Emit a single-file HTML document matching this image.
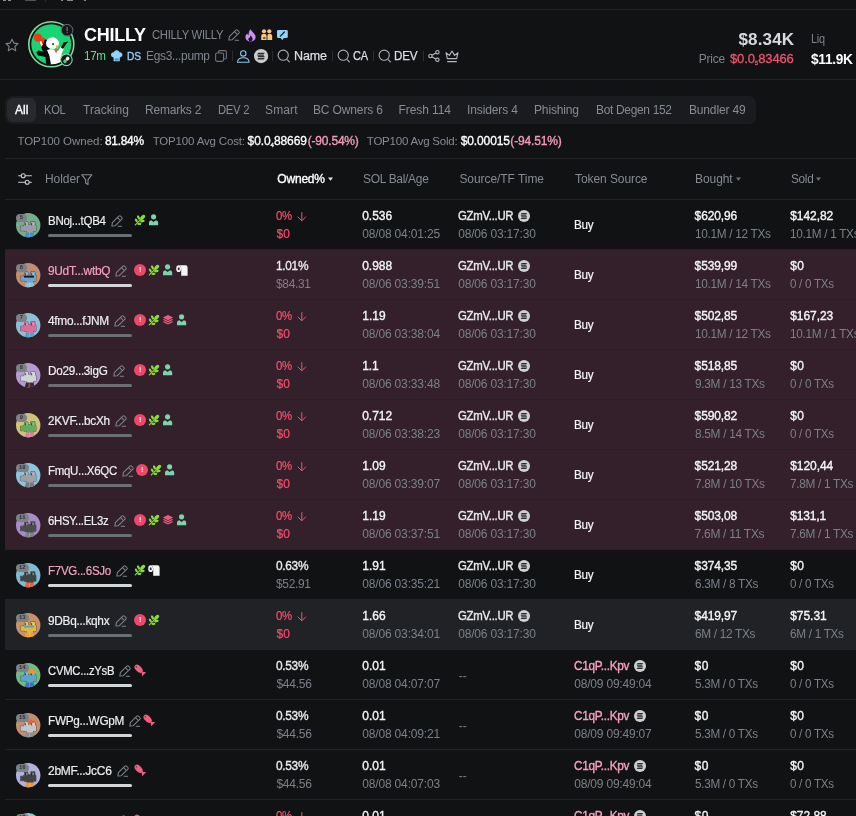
<!DOCTYPE html><html lang="en"><head><meta charset="utf-8"><title>CHILLY holders</title><style>
html,body{margin:0;padding:0;background:#111214;}
body{width:856px;height:816px;overflow:hidden;position:relative;font-family:"Liberation Sans",sans-serif;-webkit-font-smoothing:antialiased;}
.t{position:absolute;white-space:nowrap;}
.i{position:absolute;display:block;overflow:visible;}
.hl{position:absolute;height:1px;background:#212327;}
.box{position:absolute;}
.sec{position:absolute;left:0;top:0;}
.row{position:absolute;left:5px;width:851px;height:49px;border-bottom:1px solid #212327;}
.bar{position:absolute;left:43px;width:84px;height:3px;border-radius:2px;}
.ex{position:absolute;width:12.2px;height:12.2px;border-radius:50%;background:#ee4868;color:#fff;font-size:7px;line-height:12px;font-weight:700;text-align:center;}
.idx{position:absolute;min-width:5px;padding:0 3px;height:8px;border-radius:4px;background:#7d8287;color:#2c2f34;font-size:5.5px;line-height:8.4px;font-weight:700;text-align:center;font-family:"Liberation Mono",monospace;}
.sub{font-size:6px;position:relative;top:1.8px;letter-spacing:0;}

</style></head><body>
<header class="sec">
<div class="box" style="left:3px;top:0;width:2.5px;height:1px;background:#8f9296"></div><div class="box" style="left:8px;top:0;width:2.5px;height:1px;background:#8f9296"></div>
<div class="box" style="left:25px;top:0;width:11px;height:1px;background:#4f5358"></div>
<div class="box" style="left:45px;top:0;width:1px;height:2px;background:#2a2d33"></div>
<div class="box" style="left:61px;top:0;width:2px;height:1px;background:#85888c"></div><div class="box" style="left:67px;top:0;width:6px;height:1px;background:#85888c"></div><div class="box" style="left:84px;top:0;width:1.5px;height:1px;background:#85888c"></div>
<div class="hl" style="left:0;top:9px;width:856px"></div>
<div class="hl" style="left:0;top:79px;width:856px"></div>
<svg class="i" style="left:5.0px;top:38.0px" width="14" height="14" viewBox="0 0 14 14"><path d="M7 1.2 8.8 5.1 13 5.6 9.9 8.5 10.7 12.7 7 10.6 3.3 12.7 4.1 8.5 1 5.6 5.2 5.1Z" fill="none" stroke="#7d828a" stroke-width="1.1" stroke-linejoin="round"/></svg>
<svg class="i" style="left:27.8px;top:21.3px" width="46.6" height="46.6" viewBox="0 0 46.6 46.6"><circle cx="23.3" cy="23.3" r="22.5" fill="none" stroke="#7fd99f" stroke-width="1.6"/>
<circle cx="23.3" cy="23.3" r="20" fill="#19d472"/>
<clipPath id="pc"><circle cx="23.3" cy="23.3" r="20"/></clipPath>
<g clip-path="url(#pc)">
<circle cx="9.9" cy="16.6" r="4.2" fill="#f23a12"/>
<ellipse cx="17.6" cy="25" rx="4.4" ry="6.4" fill="#0b0b0b"/>
<path d="M10.4 19.8 15.6 16.2 17 18.2 13.6 26.4Z" fill="#f23a12"/>
<path d="M11.6 21 13.2 19.8 14.6 23.4 13.4 25.6Z" fill="#fff"/>
<ellipse cx="24.5" cy="22.2" rx="6.5" ry="5.9" fill="#fff"/>
<path d="M8.3 31.5 10.5 29.5 17 31 21 29 25 34 26 44 18 44 17.5 36 10 34.5Z" fill="#0b0b0b"/>
<path d="M19 29Q25 27 30 30L33 25.5 36 27.5 33.5 33 33.8 43 23 44 21.5 35Z" fill="#fff"/>
<path d="M33 26.4 35.5 21.5 40.4 20.5 37.8 23.5 35 28Z" fill="#0b0b0b"/>
<path d="M27.5 24.5 31 24.8 29 28Z" fill="#f5a11a"/>
<path d="M26 28.6 29.8 28.4 28.2 32.2Z" fill="#e8582a"/>
<ellipse cx="25" cy="23.2" rx="0.8" ry="1.1" fill="#111"/>
</g>
<circle cx="39.1" cy="9.2" r="5.8" fill="#15171a" stroke="#666b72" stroke-width="1"/>
<rect x="38.5" y="6" width="1.2" height="4.2" fill="#70757c"/><rect x="38.5" y="11.1" width="1.2" height="1.2" fill="#70757c"/>
<circle cx="38.4" cy="38.8" r="5.8" fill="#15171a" stroke="#7fd99f" stroke-width="1.1"/>
<g transform="rotate(-45 38.4 38.8)"><rect x="34.6" y="37.1" width="3.8" height="3.4" rx="1.7" fill="#3ecf8e"/><rect x="38.2" y="37.1" width="3.9" height="3.4" rx="1.7" fill="#f1f1f1"/></g></svg>
<span class="t" style="left:84.0px;top:24.0px;font-size:18px;line-height:22px;color:#ffffff;font-weight:700;letter-spacing:-0.269px;">CHILLY</span>
<span class="t" style="left:151.5px;top:27.0px;font-size:12px;line-height:16px;color:#81868f;transform:scaleX(0.940);transform-origin:0 50%;letter-spacing:-0.300px;">CHILLY WILLY</span>
<svg class="i" style="left:228.0px;top:28.8px" width="12" height="12" viewBox="0 0 12 12"><g fill="none" stroke="#7f848c" stroke-width="1.05" stroke-linejoin="round" stroke-linecap="round"><path d="M7.9 1.1Q8.7 0.4 9.5 1.1L10.9 2.5Q11.6 3.3 10.9 4.1L4.3 10.7 0.9 11.1 1.3 7.7Z"/><path d="M6.5 2.6 9.4 5.5"/><path d="M7.2 11.2H10.6"/></g></svg>
<svg class="i" style="left:245.0px;top:28.6px" width="11" height="12.4" viewBox="0 0 11 12.4"><path d="M5.6 0.2C6.4 2.4 10.6 4.6 10.6 8.2 10.6 10.8 8.4 12.4 5.5 12.4 2.6 12.4 0.4 10.8 0.4 8.2 0.4 6.4 1.4 5.2 2.2 4.4 2.6 5.4 3 5.8 3.6 6.2 3.4 3.8 4.4 1.4 5.6 0.2Z" fill="#cf8df6"/><path d="M5.6 6.2C6.2 7.6 7.6 8.4 7.6 10.2 7.6 11.4 6.8 12.4 5.5 12.4 4.2 12.4 3.4 11.4 3.4 10.2 3.4 9.2 4 8.6 4.4 8.2 4.6 8.8 4.8 9 5 9.2 5 8 5.2 7 5.6 6.2Z" fill="#15171a"/></svg>
<svg class="i" style="left:260.5px;top:29.2px" width="11.4" height="11" viewBox="0 0 11.4 11"><g fill="#f6c67c"><circle cx="3" cy="2.3" r="2.1"/><circle cx="8.3" cy="2.3" r="2.1"/><path d="M0.2 11V7Q0.2 5 2 5H4.2Q5.6 5 5.6 7V11Z"/><path d="M6.4 11V7Q6.4 5 7.6 5H9.4Q11.2 5 11.2 7V11Z"/></g><rect x="2" y="8" width="2.6" height="2" fill="#15171a" opacity=".55"/></svg>
<svg class="i" style="left:276.6px;top:30.0px" width="10.8" height="10.4" viewBox="0 0 10.8 10.4"><path d="M1.2 0H9.6Q10.8 0 10.8 1.2V6.8Q10.8 8 9.6 8H6.8L5.2 10.2 3.8 8H1.2Q0 8 0 6.8V1.2Q0 0 1.2 0Z" fill="#8dd3fb"/><path d="M3.4 6.2 7.4 2" stroke="#15171a" stroke-width="1.2" stroke-linecap="round"/></svg>
<span class="t" style="left:84.0px;top:48.1px;font-size:12px;line-height:16px;color:#62e08f;transform:scaleX(0.967);transform-origin:0 50%;letter-spacing:-0.300px;">17m</span>
<svg class="i" style="left:111.4px;top:50.4px" width="11.4" height="11.4" viewBox="0 0 11.4 11.4"><path d="M2.6 7.4C0.8 7.2 0 6 0 4.8 0 3.2 1.4 2.2 2.8 2.4 3.2 1 4.4 0.2 5.7 0.2 7 0.2 8.2 1 8.6 2.4 10 2.2 11.4 3.2 11.4 4.8 11.4 6 10.6 7.2 8.8 7.4V11.2H2.6Z" fill="#8fd4fb"/><rect x="3.6" y="8.4" width="4.2" height="2.2" fill="#5b93b5"/></svg>
<span class="t" style="left:127.4px;top:48.1px;font-size:11.5px;line-height:16px;color:#8fd0fb;transform:scaleX(0.893);transform-origin:0 50%;-webkit-text-stroke:0.35px;letter-spacing:-0.300px;">DS</span>
<span class="t" style="left:146.0px;top:48.1px;font-size:12px;line-height:16px;color:#81868f;transform:scaleX(0.994);transform-origin:0 50%;letter-spacing:-0.300px;">Egs3...pump</span>
<svg class="i" style="left:215.0px;top:50.0px" width="12" height="12" viewBox="0 0 12 12"><rect x="0.6" y="3" width="8" height="8.4" rx="1.6" fill="none" stroke="#6d727a" stroke-width="1.1"/><path d="M3.4 3V2.2Q3.4 0.6 5 0.6H9.8Q11.4 0.6 11.4 2.2V7.4Q11.4 9 9.8 9H8.8" fill="none" stroke="#6d727a" stroke-width="1.1"/></svg>
<div class="box" style="left:232px;top:51px;width:1px;height:10px;background:#292c31"></div>
<svg class="i" style="left:236.8px;top:49.6px" width="12.6" height="13" viewBox="0 0 12.6 13"><circle cx="6.3" cy="3.4" r="2.7" fill="none" stroke="#86c9f4" stroke-width="1.1"/><path d="M0.6 12.2Q0.6 7.8 6.3 7.8 12 7.8 12 12.2Z" fill="none" stroke="#86c9f4" stroke-width="1.1" stroke-linejoin="round"/></svg>
<svg class="i" style="left:254.0px;top:48.8px" width="14.2" height="14.2" viewBox="0 0 12 12"><circle cx="6" cy="6" r="6" fill="#c9cbcd"/><g fill="#2b2d31"><path d="M3.6 3.1H9.1L8.2 4.6H2.7Z"/><path d="M2.7 5.25H8.2L9.1 6.75H3.6Z"/><path d="M3.6 7.4H9.1L8.2 8.9H2.7Z"/></g></svg>
<div class="box" style="left:272px;top:51px;width:1px;height:10px;background:#292c31"></div>
<svg class="i" style="left:277.0px;top:49.4px" width="14" height="14" viewBox="0 0 14 14"><circle cx="6.2" cy="6.2" r="5.1" fill="none" stroke="#a9adb4" stroke-width="1.1"/><path d="M10.4 10.8 12.4 12.8" stroke="#a9adb4" stroke-width="1.2" stroke-linecap="round"/></svg>
<span class="t" style="left:294.0px;top:48.1px;font-size:12.5px;line-height:16px;color:#dcdfe3;letter-spacing:-0.114px;-webkit-text-stroke:0.25px;">Name</span>
<div class="box" style="left:332px;top:51px;width:1px;height:10px;background:#292c31"></div>
<svg class="i" style="left:337.0px;top:49.4px" width="14" height="14" viewBox="0 0 14 14"><circle cx="6.2" cy="6.2" r="5.1" fill="none" stroke="#a9adb4" stroke-width="1.1"/><path d="M10.4 10.8 12.4 12.8" stroke="#a9adb4" stroke-width="1.2" stroke-linecap="round"/></svg>
<span class="t" style="left:353.0px;top:48.1px;font-size:12.25px;line-height:16px;color:#dcdfe3;transform:scaleX(0.897);transform-origin:0 50%;letter-spacing:-0.300px;-webkit-text-stroke:0.25px;">CA</span>
<div class="box" style="left:373px;top:51px;width:1px;height:10px;background:#292c31"></div>
<svg class="i" style="left:378.0px;top:49.4px" width="14" height="14" viewBox="0 0 14 14"><circle cx="6.2" cy="6.2" r="5.1" fill="none" stroke="#a9adb4" stroke-width="1.1"/><path d="M10.4 10.8 12.4 12.8" stroke="#a9adb4" stroke-width="1.2" stroke-linecap="round"/></svg>
<span class="t" style="left:394.0px;top:48.1px;font-size:12.5px;line-height:16px;color:#dcdfe3;transform:scaleX(0.936);transform-origin:0 50%;letter-spacing:-0.300px;-webkit-text-stroke:0.25px;">DEV</span>
<div class="box" style="left:423px;top:51px;width:1px;height:10px;background:#292c31"></div>
<svg class="i" style="left:428.0px;top:50.0px" width="12" height="12" viewBox="0 0 12 12"><g fill="none" stroke="#b4b8be" stroke-width="1.1"><circle cx="9.4" cy="2.2" r="1.7"/><circle cx="2.4" cy="6" r="1.7"/><circle cx="9.4" cy="9.8" r="1.7"/><path d="M3.9 5.2 7.9 3M3.9 6.8 7.9 9"/></g></svg>
<svg class="i" style="left:445.4px;top:49.6px" width="14" height="13" viewBox="0 0 14 13"><path d="M2.4 8.6 1 2.8 4.4 5.4 7 1 9.6 5.4 13 2.8 11.6 8.6Z" fill="none" stroke="#b4b8be" stroke-width="1.1" stroke-linejoin="round"/><path d="M2.6 11.6H11.4" stroke="#b4b8be" stroke-width="1.1" stroke-linecap="round"/></svg>
<span class="t" style="left:738.5px;top:28.5px;font-size:17px;line-height:22px;color:#d6d9dd;font-weight:700;letter-spacing:0.137px;">$8.34K</span>
<span class="t" style="left:811.0px;top:31.0px;font-size:12px;line-height:16px;color:#7d828b;transform:scaleX(0.908);transform-origin:0 50%;letter-spacing:-0.300px;">Liq</span>
<span class="t" style="left:698.7px;top:51.3px;font-size:12px;line-height:16px;color:#7d828b;letter-spacing:-0.185px;">Price</span>
<span class="t" style="left:730px;top:51.3px;font-size:13px;line-height:16px;color:#f5506f;-webkit-text-stroke:0.3px;letter-spacing:-0.12px">$0.0<span class="sub">5</span>83466</span>
<span class="t" style="left:810.6px;top:49.5px;font-size:14px;line-height:18px;color:#ffffff;transform:scaleX(0.980);transform-origin:0 50%;font-weight:700;letter-spacing:-0.300px;">$11.9K</span>
</header>
<nav class="sec">
<div class="box" style="left:5px;top:96px;width:751px;height:28px;border-radius:7px;background:#191b1f"></div>
<div class="box" style="left:7px;top:98px;width:28.5px;height:24px;border-radius:6px;background:#27292e"></div>
<span class="t" style="left:15.0px;top:102.0px;font-size:12px;line-height:16px;color:#ffffff;-webkit-text-stroke:0.35px;letter-spacing:0.082px;">All</span>
<span class="t" style="left:44.4px;top:102.0px;font-size:12px;line-height:16px;color:#868b94;transform:scaleX(0.931);transform-origin:0 50%;letter-spacing:-0.300px;">KOL</span>
<span class="t" style="left:83.0px;top:102.0px;font-size:12px;line-height:16px;color:#868b94;letter-spacing:0.062px;">Tracking</span>
<span class="t" style="left:145.0px;top:102.0px;font-size:12px;line-height:16px;color:#868b94;letter-spacing:-0.189px;">Remarks 2</span>
<span class="t" style="left:217.5px;top:102.0px;font-size:12px;line-height:16px;color:#868b94;transform:scaleX(0.941);transform-origin:0 50%;letter-spacing:-0.300px;">DEV 2</span>
<span class="t" style="left:265.0px;top:102.0px;font-size:12px;line-height:16px;color:#868b94;letter-spacing:0.124px;">Smart</span>
<span class="t" style="left:313.0px;top:102.0px;font-size:12px;line-height:16px;color:#868b94;letter-spacing:-0.135px;">BC Owners 6</span>
<span class="t" style="left:398.5px;top:102.0px;font-size:12px;line-height:16px;color:#868b94;letter-spacing:-0.079px;">Fresh 114</span>
<span class="t" style="left:467.0px;top:102.0px;font-size:12px;line-height:16px;color:#868b94;letter-spacing:-0.114px;">Insiders 4</span>
<span class="t" style="left:534.0px;top:102.0px;font-size:12px;line-height:16px;color:#868b94;letter-spacing:-0.147px;">Phishing</span>
<span class="t" style="left:596.0px;top:102.0px;font-size:12px;line-height:16px;color:#868b94;transform:scaleX(0.994);transform-origin:0 50%;letter-spacing:-0.300px;">Bot Degen 152</span>
<span class="t" style="left:689.0px;top:102.0px;font-size:12px;line-height:16px;color:#868b94;letter-spacing:-0.160px;">Bundler 49</span>
</nav>
<section class="sec">
<span class="t" style="left:17.4px;top:133.0px;font-size:11.5px;line-height:16px;color:#858a93;letter-spacing:-0.020px;">TOP100 Owned:</span>
<span class="t" style="left:105.0px;top:133.0px;font-size:12px;line-height:16px;color:#ffffff;transform:scaleX(0.995);transform-origin:0 50%;-webkit-text-stroke:0.35px;letter-spacing:-0.300px;">81.84%</span>
<span class="t" style="left:152.7px;top:133.0px;font-size:11.5px;line-height:16px;color:#858a93;letter-spacing:-0.168px;">TOP100 Avg Cost:</span>
<span class="t" style="left:247.6px;top:133px;font-size:12px;line-height:16px;color:#fff;-webkit-text-stroke:0.3px;letter-spacing:-0.1px">$0.0<span class="sub">4</span>88669</span>
<span class="t" style="left:307.8px;top:133.0px;font-size:12px;line-height:16px;color:#f29bb6;-webkit-text-stroke:0.35px;letter-spacing:-0.210px;">(-90.54%)</span>
<span class="t" style="left:366.8px;top:133.0px;font-size:11.5px;line-height:16px;color:#858a93;letter-spacing:-0.226px;">TOP100 Avg Sold:</span>
<span class="t" style="left:460.7px;top:133.0px;font-size:12px;line-height:16px;color:#ffffff;-webkit-text-stroke:0.35px;letter-spacing:-0.107px;">$0.00015</span>
<span class="t" style="left:510.3px;top:133.0px;font-size:12px;line-height:16px;color:#f29bb6;-webkit-text-stroke:0.35px;letter-spacing:-0.160px;">(-94.51%)</span>
<div class="hl" style="left:5px;top:158px;width:851px"></div>
<div class="hl" style="left:5px;top:199px;width:851px"></div>
</section>
<div class="sec thead">
<svg class="i" style="left:18.0px;top:173.0px" width="14" height="12" viewBox="0 0 14 12"><g fill="none" stroke="#c9ccd1" stroke-width="1.1" stroke-linecap="round"><path d="M0.6 2.8H3M7.4 2.8H13.4M0.6 9.2H7M11.4 9.2H13.4"/><circle cx="5.2" cy="2.8" r="2"/><circle cx="9.2" cy="9.2" r="2"/></g></svg>
<span class="t" style="left:45.0px;top:171.0px;font-size:12px;line-height:16px;color:#858a93;letter-spacing:-0.069px;">Holder</span>
<svg class="i" style="left:80.6px;top:173.6px" width="11.6" height="11.6" viewBox="0 0 11.6 11.6"><path d="M0.8 0.8H10.8L7 5.6V10.6L4.6 9V5.6Z" fill="none" stroke="#858a93" stroke-width="1.1" stroke-linejoin="round"/></svg>
<span class="t" style="left:277.3px;top:171.0px;font-size:12px;line-height:16px;color:#ffffff;-webkit-text-stroke:0.35px;letter-spacing:-0.198px;">Owned%</span>
<svg class="i" style="left:327.6px;top:177.4px" width="5" height="4" viewBox="0 0 5 4"><path d="M0 0.4H5L2.5 3.8Z" fill="#e6e7e9"/></svg>
<span class="t" style="left:362.9px;top:171.0px;font-size:12px;line-height:16px;color:#858a93;transform:scaleX(0.998);transform-origin:0 50%;letter-spacing:-0.300px;">SOL Bal/Age</span>
<span class="t" style="left:459.4px;top:171.0px;font-size:12px;line-height:16px;color:#858a93;letter-spacing:-0.058px;">Source/TF Time</span>
<span class="t" style="left:575.0px;top:171.0px;font-size:12px;line-height:16px;color:#858a93;letter-spacing:-0.079px;">Token Source</span>
<span class="t" style="left:695.0px;top:171.0px;font-size:12px;line-height:16px;color:#858a93;letter-spacing:-0.066px;">Bought</span>
<svg class="i" style="left:735.6px;top:177.4px" width="5" height="4" viewBox="0 0 5 4"><path d="M0 0.4H5L2.5 3.8Z" fill="#6f747c"/></svg>
<span class="t" style="left:791.0px;top:171.0px;font-size:12px;line-height:16px;color:#858a93;transform:scaleX(0.982);transform-origin:0 50%;letter-spacing:-0.300px;">Sold</span>
<svg class="i" style="left:816.4px;top:177.4px" width="5" height="4" viewBox="0 0 5 4"><path d="M0 0.4H5L2.5 3.8Z" fill="#6f747c"/></svg>
</div>
<main class="sec">
<div class="row" style="top:200px;">
<svg class="i" style="left:10.8px;top:12.8px" width="24.4" height="24.4" viewBox="0 0 24.4 24.4"><circle cx="12.2" cy="12.2" r="12.2" fill="#76ad8a"/><clipPath id="cc1"><circle cx="12.2" cy="12.2" r="12.2"/></clipPath><g clip-path="url(#cc1)"><path d="M8.6 9h3.4v2.6h2.8v-2.9h4.2v3.5h1v6h-3v2.5h-6v-2.3h-2.4v-.6h-4v-4.6h3v-1h1z" fill="#9a9ea3" stroke="#1d1f23" stroke-opacity=".6" stroke-width="0.9" stroke-linejoin="round" paint-order="stroke"/><path d="M8.7 24.6 10 19.5H17.4L18.7 24.6Z" fill="#4a8fc4"/><rect x="13.4" y="19.5" width="0.7" height="5" fill="#fff" opacity=".35"/><rect x="9.2" y="10.2" width="1" height="2" fill="#1b1c20" opacity=".8"/><rect x="15.2" y="10.2" width="1" height="2.2" fill="#1b1c20" opacity=".8"/><rect x="10.4" y="9.8" width="0.9" height="2.4" fill="#fff" opacity=".6"/><rect x="16.6" y="9.6" width="0.9" height="2.6" fill="#fff" opacity=".6"/></g></svg>
<span class="idx" style="left:10.9px;top:13.5px">5</span>
<span class="t" style="left:43.3px;top:13.0px;font-size:12.5px;line-height:16px;color:#eceef0;transform:scaleX(0.921);transform-origin:0 50%;letter-spacing:-0.300px;-webkit-text-stroke:0.2px;">BNoj...tQB4</span>
<svg class="i" style="left:105.9px;top:15.0px" width="12" height="12" viewBox="0 0 12 12"><g fill="none" stroke="#7f848c" stroke-width="1.05" stroke-linejoin="round" stroke-linecap="round"><path d="M7.9 1.1Q8.7 0.4 9.5 1.1L10.9 2.5Q11.6 3.3 10.9 4.1L4.3 10.7 0.9 11.1 1.3 7.7Z"/><path d="M6.5 2.6 9.4 5.5"/><path d="M7.2 11.2H10.6"/></g></svg>
<div class="bar" style="top:34px;background:#6a6f74"></div>
<svg class="i" style="left:129.0px;top:14.0px" width="12" height="12" viewBox="0 0 12 12"><g fill="#84e22a"><path d="M1.3 10.9 8.4 3.8" stroke="#84e22a" stroke-width="1.2" stroke-linecap="round"/><ellipse cx="8.7" cy="3.3" rx="3" ry="1.75" transform="rotate(-45 8.7 3.3)"/><ellipse cx="4.5" cy="3.5" rx="2.3" ry="1.25" transform="rotate(62 4.5 3.5)"/><ellipse cx="8.4" cy="7.1" rx="2.3" ry="1.25" transform="rotate(-8 8.4 7.1)"/><ellipse cx="2.3" cy="6.3" rx="2" ry="1.15" transform="rotate(55 2.3 6.3)"/><ellipse cx="5.4" cy="9.9" rx="2" ry="1.15" transform="rotate(-5 5.4 9.9)"/></g></svg>
<svg class="i" style="left:144.4px;top:14.3px" width="9.2" height="11.4" viewBox="0 0 9.6 11.4"><g fill="#7bd5ab"><circle cx="4.8" cy="2.7" r="2.7"/><path d="M0 11.4V8.6Q0 6.4 2.4 6.2L4.8 8 7.2 6.2Q9.6 6.4 9.6 8.6V11.4Z"/></g></svg>
<span class="t" style="left:271.4px;top:8.1px;font-size:12px;line-height:16px;color:#f5506f;transform:scaleX(0.950);transform-origin:0 50%;letter-spacing:-0.300px;-webkit-text-stroke:0.2px;">0%</span>
<svg class="i" style="left:292.2px;top:11.6px" width="9.6" height="9.6" viewBox="0 0 9.6 9.6"><path d="M4.8 0.6V8.6M1 5 4.8 8.8 8.6 5" fill="none" stroke="#f5506f" stroke-width="1" stroke-linecap="round" stroke-linejoin="round"/></svg>
<span class="t" style="left:271.4px;top:26.1px;font-size:12px;line-height:16px;color:#f5506f;letter-spacing:0.254px;-webkit-text-stroke:0.2px;">$0</span>
<span class="t" style="left:357.2px;top:8.1px;font-size:12px;line-height:16px;color:#f4f5f6;-webkit-text-stroke:0.35px;letter-spacing:-0.007px;">0.536</span>
<span class="t" style="left:357.2px;top:26.1px;font-size:12px;line-height:16px;color:#7b8089;letter-spacing:-0.159px;">08/08 04:01:25</span>
<span class="t" style="left:453.2px;top:8.1px;font-size:12px;line-height:16px;color:#e9eaec;transform:scaleX(0.950);transform-origin:0 50%;-webkit-text-stroke:0.35px;letter-spacing:-0.300px;">GZmV...UR</span>
<svg class="i" style="left:513.2px;top:9.7px" width="12" height="12" viewBox="0 0 12 12"><circle cx="6" cy="6" r="6" fill="#cdd0d1"/><g fill="#2b2d31"><path d="M3.6 3.1H9.1L8.2 4.6H2.7Z"/><path d="M2.7 5.25H8.2L9.1 6.75H3.6Z"/><path d="M3.6 7.4H9.1L8.2 8.9H2.7Z"/></g></svg>
<span class="t" style="left:453.2px;top:26.1px;font-size:12px;line-height:16px;color:#7b8089;letter-spacing:-0.182px;">08/06 03:17:30</span>
<span class="t" style="left:569.3px;top:16.7px;font-size:12.5px;line-height:16px;color:#f4f5f6;transform:scaleX(0.936);transform-origin:0 50%;letter-spacing:-0.300px;-webkit-text-stroke:0.2px;">Buy</span>
<span class="t" style="left:689.6px;top:8.1px;font-size:12px;line-height:16px;color:#f4f5f6;-webkit-text-stroke:0.35px;letter-spacing:-0.112px;">$620,96</span>
<span class="t" style="left:689.6px;top:26.1px;font-size:12px;line-height:16px;color:#7b8089;transform:scaleX(0.984);transform-origin:0 50%;letter-spacing:-0.300px;">10.1M / 12 TXs</span>
<span class="t" style="left:785.2px;top:8.1px;font-size:12px;line-height:16px;color:#f4f5f6;-webkit-text-stroke:0.35px;letter-spacing:-0.062px;">$142,82</span>
<span class="t" style="left:785.2px;top:26.1px;font-size:12px;line-height:16px;color:#7b8089;transform:scaleX(0.981);transform-origin:0 50%;letter-spacing:-0.300px;">10.1M / 1 TXs</span>
</div>
<div class="row" style="top:250px;background:#33202a">
<svg class="i" style="left:10.8px;top:12.8px" width="24.4" height="24.4" viewBox="0 0 24.4 24.4"><circle cx="12.2" cy="12.2" r="12.2" fill="#c48d6d"/><clipPath id="cc2"><circle cx="12.2" cy="12.2" r="12.2"/></clipPath><g clip-path="url(#cc2)"><path d="M8.6 9h3.4v2.6h2.8v-2.9h4.2v3.5h1v6h-3v2.5h-6v-2.3h-2.4v-.6h-4v-4.6h3v-1h1z" fill="#6aa7c8" stroke="#1d1f23" stroke-opacity=".6" stroke-width="0.9" stroke-linejoin="round" paint-order="stroke"/><path d="M8.7 24.6 10 19.5H17.4L18.7 24.6Z" fill="#8fc0d8"/><rect x="13.4" y="19.5" width="0.7" height="5" fill="#fff" opacity=".35"/><rect x="9.2" y="10.2" width="1" height="2" fill="#1b1c20" opacity=".8"/><rect x="15.2" y="10.2" width="1" height="2.2" fill="#1b1c20" opacity=".8"/><rect x="10.4" y="9.8" width="0.9" height="2.4" fill="#fff" opacity=".6"/><rect x="16.6" y="9.6" width="0.9" height="2.6" fill="#fff" opacity=".6"/><rect x="8" y="12.6" width="10" height="2" fill="#1b1c20"/></g></svg>
<span class="idx" style="left:10.9px;top:13.5px">6</span>
<span class="t" style="left:43.3px;top:13.0px;font-size:12.5px;line-height:16px;color:#f7a0be;transform:scaleX(0.950);transform-origin:0 50%;letter-spacing:-0.300px;-webkit-text-stroke:0.2px;">9UdT...wtbQ</span>
<svg class="i" style="left:110.4px;top:15.0px" width="12" height="12" viewBox="0 0 12 12"><g fill="none" stroke="#7f848c" stroke-width="1.05" stroke-linejoin="round" stroke-linecap="round"><path d="M7.9 1.1Q8.7 0.4 9.5 1.1L10.9 2.5Q11.6 3.3 10.9 4.1L4.3 10.7 0.9 11.1 1.3 7.7Z"/><path d="M6.5 2.6 9.4 5.5"/><path d="M7.2 11.2H10.6"/></g></svg>
<div class="bar" style="top:34px;background:#d3d6d8"></div>
<span class="ex" style="left:129.0px;top:13.8px">!</span>
<svg class="i" style="left:143.0px;top:14.0px" width="12" height="12" viewBox="0 0 12 12"><g fill="#84e22a"><path d="M1.3 10.9 8.4 3.8" stroke="#84e22a" stroke-width="1.2" stroke-linecap="round"/><ellipse cx="8.7" cy="3.3" rx="3" ry="1.75" transform="rotate(-45 8.7 3.3)"/><ellipse cx="4.5" cy="3.5" rx="2.3" ry="1.25" transform="rotate(62 4.5 3.5)"/><ellipse cx="8.4" cy="7.1" rx="2.3" ry="1.25" transform="rotate(-8 8.4 7.1)"/><ellipse cx="2.3" cy="6.3" rx="2" ry="1.15" transform="rotate(55 2.3 6.3)"/><ellipse cx="5.4" cy="9.9" rx="2" ry="1.15" transform="rotate(-5 5.4 9.9)"/></g></svg>
<svg class="i" style="left:158.4px;top:14.3px" width="9.2" height="11.4" viewBox="0 0 9.6 11.4"><g fill="#7bd5ab"><circle cx="4.8" cy="2.7" r="2.7"/><path d="M0 11.4V8.6Q0 6.4 2.4 6.2L4.8 8 7.2 6.2Q9.6 6.4 9.6 8.6V11.4Z"/></g></svg>
<svg class="i" style="left:171.4px;top:14.6px" width="12" height="11" viewBox="0 0 12 11"><path d="M2.6 0.2H9.4Q11.6 0.2 11.6 2.6V10.8H5.2V3.8Q5.2 0.2 2.6 0.2Z" fill="#f4f5f5"/><ellipse cx="2.6" cy="3.7" rx="2.4" ry="3.4" fill="#f4f5f5"/><ellipse cx="2.7" cy="3.7" rx="0.9" ry="1.5" fill="#26282c"/></svg>
<span class="t" style="left:271.4px;top:8.1px;font-size:12px;line-height:16px;color:#e9eaec;transform:scaleX(0.990);transform-origin:0 50%;-webkit-text-stroke:0.35px;letter-spacing:-0.300px;">1.01%</span>
<span class="t" style="left:271.4px;top:26.1px;font-size:12px;line-height:16px;color:#7b8089;transform:scaleX(0.994);transform-origin:0 50%;letter-spacing:-0.300px;">$84.31</span>
<span class="t" style="left:357.2px;top:8.1px;font-size:12px;line-height:16px;color:#f4f5f6;-webkit-text-stroke:0.35px;letter-spacing:-0.007px;">0.988</span>
<span class="t" style="left:357.2px;top:26.1px;font-size:12px;line-height:16px;color:#7b8089;letter-spacing:-0.159px;">08/06 03:39:51</span>
<span class="t" style="left:453.2px;top:8.1px;font-size:12px;line-height:16px;color:#e9eaec;transform:scaleX(0.950);transform-origin:0 50%;-webkit-text-stroke:0.35px;letter-spacing:-0.300px;">GZmV...UR</span>
<svg class="i" style="left:513.2px;top:9.7px" width="12" height="12" viewBox="0 0 12 12"><circle cx="6" cy="6" r="6" fill="#cdd0d1"/><g fill="#2b2d31"><path d="M3.6 3.1H9.1L8.2 4.6H2.7Z"/><path d="M2.7 5.25H8.2L9.1 6.75H3.6Z"/><path d="M3.6 7.4H9.1L8.2 8.9H2.7Z"/></g></svg>
<span class="t" style="left:453.2px;top:26.1px;font-size:12px;line-height:16px;color:#7b8089;letter-spacing:-0.182px;">08/06 03:17:30</span>
<span class="t" style="left:569.3px;top:16.7px;font-size:12.5px;line-height:16px;color:#f4f5f6;transform:scaleX(0.936);transform-origin:0 50%;letter-spacing:-0.300px;-webkit-text-stroke:0.2px;">Buy</span>
<span class="t" style="left:689.6px;top:8.1px;font-size:12px;line-height:16px;color:#f4f5f6;-webkit-text-stroke:0.35px;letter-spacing:-0.112px;">$539,99</span>
<span class="t" style="left:689.6px;top:26.1px;font-size:12px;line-height:16px;color:#7b8089;transform:scaleX(0.984);transform-origin:0 50%;letter-spacing:-0.300px;">10.1M / 14 TXs</span>
<span class="t" style="left:785.2px;top:8.1px;font-size:12px;line-height:16px;color:#f4f5f6;-webkit-text-stroke:0.35px;letter-spacing:0.454px;">$0</span>
<span class="t" style="left:785.2px;top:26.1px;font-size:12px;line-height:16px;color:#7b8089;transform:scaleX(0.969);transform-origin:0 50%;letter-spacing:-0.300px;">0 / 0 TXs</span>
</div>
<div class="row" style="top:300px;background:#33202a">
<svg class="i" style="left:10.8px;top:12.8px" width="24.4" height="24.4" viewBox="0 0 24.4 24.4"><circle cx="12.2" cy="12.2" r="12.2" fill="#8dc0d8"/><clipPath id="cc3"><circle cx="12.2" cy="12.2" r="12.2"/></clipPath><g clip-path="url(#cc3)"><path d="M8.6 9h3.4v2.6h2.8v-2.9h4.2v3.5h1v6h-3v2.5h-6v-2.3h-2.4v-.6h-4v-4.6h3v-1h1z" fill="#e06a98" stroke="#1d1f23" stroke-opacity=".6" stroke-width="0.9" stroke-linejoin="round" paint-order="stroke"/><path d="M8.7 24.6 10 19.5H17.4L18.7 24.6Z" fill="#5aa0c8"/><rect x="13.4" y="19.5" width="0.7" height="5" fill="#fff" opacity=".35"/><rect x="9.2" y="10.2" width="1" height="2" fill="#1b1c20" opacity=".8"/><rect x="15.2" y="10.2" width="1" height="2.2" fill="#1b1c20" opacity=".8"/><rect x="10.4" y="9.8" width="0.9" height="2.4" fill="#fff" opacity=".6"/><rect x="16.6" y="9.6" width="0.9" height="2.6" fill="#fff" opacity=".6"/></g></svg>
<span class="idx" style="left:10.9px;top:13.5px">7</span>
<span class="t" style="left:43.3px;top:13.0px;font-size:12.5px;line-height:16px;color:#eceef0;transform:scaleX(0.948);transform-origin:0 50%;letter-spacing:-0.300px;-webkit-text-stroke:0.2px;">4fmo...fJNM</span>
<svg class="i" style="left:108.9px;top:15.0px" width="12" height="12" viewBox="0 0 12 12"><g fill="none" stroke="#7f848c" stroke-width="1.05" stroke-linejoin="round" stroke-linecap="round"><path d="M7.9 1.1Q8.7 0.4 9.5 1.1L10.9 2.5Q11.6 3.3 10.9 4.1L4.3 10.7 0.9 11.1 1.3 7.7Z"/><path d="M6.5 2.6 9.4 5.5"/><path d="M7.2 11.2H10.6"/></g></svg>
<div class="bar" style="top:34px;background:#6a6f74"></div>
<span class="ex" style="left:129.0px;top:13.8px">!</span>
<svg class="i" style="left:143.0px;top:14.0px" width="12" height="12" viewBox="0 0 12 12"><g fill="#84e22a"><path d="M1.3 10.9 8.4 3.8" stroke="#84e22a" stroke-width="1.2" stroke-linecap="round"/><ellipse cx="8.7" cy="3.3" rx="3" ry="1.75" transform="rotate(-45 8.7 3.3)"/><ellipse cx="4.5" cy="3.5" rx="2.3" ry="1.25" transform="rotate(62 4.5 3.5)"/><ellipse cx="8.4" cy="7.1" rx="2.3" ry="1.25" transform="rotate(-8 8.4 7.1)"/><ellipse cx="2.3" cy="6.3" rx="2" ry="1.15" transform="rotate(55 2.3 6.3)"/><ellipse cx="5.4" cy="9.9" rx="2" ry="1.15" transform="rotate(-5 5.4 9.9)"/></g></svg>
<svg class="i" style="left:157.0px;top:14.0px" width="12" height="12" viewBox="0 0 12 12"><g fill="#ee5a7c"><path d="M6 1 11.2 3.6 6 6.2 0.8 3.6Z"/><path d="M0.8 5.8 2.2 5.1 6 7 9.8 5.1 11.2 5.8 6 8.4Z"/><path d="M0.8 8 2.2 7.3 6 9.2 9.8 7.3 11.2 8 6 10.6Z"/></g></svg>
<svg class="i" style="left:172.4px;top:14.3px" width="9.2" height="11.4" viewBox="0 0 9.6 11.4"><g fill="#7bd5ab"><circle cx="4.8" cy="2.7" r="2.7"/><path d="M0 11.4V8.6Q0 6.4 2.4 6.2L4.8 8 7.2 6.2Q9.6 6.4 9.6 8.6V11.4Z"/></g></svg>
<span class="t" style="left:271.4px;top:8.1px;font-size:12px;line-height:16px;color:#f5506f;transform:scaleX(0.950);transform-origin:0 50%;letter-spacing:-0.300px;-webkit-text-stroke:0.2px;">0%</span>
<svg class="i" style="left:292.2px;top:11.6px" width="9.6" height="9.6" viewBox="0 0 9.6 9.6"><path d="M4.8 0.6V8.6M1 5 4.8 8.8 8.6 5" fill="none" stroke="#f5506f" stroke-width="1" stroke-linecap="round" stroke-linejoin="round"/></svg>
<span class="t" style="left:271.4px;top:26.1px;font-size:12px;line-height:16px;color:#f5506f;letter-spacing:0.254px;-webkit-text-stroke:0.2px;">$0</span>
<span class="t" style="left:357.2px;top:8.1px;font-size:12px;line-height:16px;color:#f4f5f6;-webkit-text-stroke:0.35px;letter-spacing:0.049px;">1.19</span>
<span class="t" style="left:357.2px;top:26.1px;font-size:12px;line-height:16px;color:#7b8089;letter-spacing:-0.159px;">08/06 03:38:04</span>
<span class="t" style="left:453.2px;top:8.1px;font-size:12px;line-height:16px;color:#e9eaec;transform:scaleX(0.950);transform-origin:0 50%;-webkit-text-stroke:0.35px;letter-spacing:-0.300px;">GZmV...UR</span>
<svg class="i" style="left:513.2px;top:9.7px" width="12" height="12" viewBox="0 0 12 12"><circle cx="6" cy="6" r="6" fill="#cdd0d1"/><g fill="#2b2d31"><path d="M3.6 3.1H9.1L8.2 4.6H2.7Z"/><path d="M2.7 5.25H8.2L9.1 6.75H3.6Z"/><path d="M3.6 7.4H9.1L8.2 8.9H2.7Z"/></g></svg>
<span class="t" style="left:453.2px;top:26.1px;font-size:12px;line-height:16px;color:#7b8089;letter-spacing:-0.182px;">08/06 03:17:30</span>
<span class="t" style="left:569.3px;top:16.7px;font-size:12.5px;line-height:16px;color:#f4f5f6;transform:scaleX(0.936);transform-origin:0 50%;letter-spacing:-0.300px;-webkit-text-stroke:0.2px;">Buy</span>
<span class="t" style="left:689.6px;top:8.1px;font-size:12px;line-height:16px;color:#f4f5f6;-webkit-text-stroke:0.35px;letter-spacing:-0.112px;">$502,85</span>
<span class="t" style="left:689.6px;top:26.1px;font-size:12px;line-height:16px;color:#7b8089;transform:scaleX(0.984);transform-origin:0 50%;letter-spacing:-0.300px;">10.1M / 12 TXs</span>
<span class="t" style="left:785.2px;top:8.1px;font-size:12px;line-height:16px;color:#f4f5f6;-webkit-text-stroke:0.35px;letter-spacing:-0.062px;">$167,23</span>
<span class="t" style="left:785.2px;top:26.1px;font-size:12px;line-height:16px;color:#7b8089;transform:scaleX(0.981);transform-origin:0 50%;letter-spacing:-0.300px;">10.1M / 1 TXs</span>
</div>
<div class="row" style="top:350px;background:#33202a">
<svg class="i" style="left:10.8px;top:12.8px" width="24.4" height="24.4" viewBox="0 0 24.4 24.4"><circle cx="12.2" cy="12.2" r="12.2" fill="#b29cd2"/><clipPath id="cc4"><circle cx="12.2" cy="12.2" r="12.2"/></clipPath><g clip-path="url(#cc4)"><path d="M8.6 9h3.4v2.6h2.8v-2.9h4.2v3.5h1v6h-3v2.5h-6v-2.3h-2.4v-.6h-4v-4.6h3v-1h1z" fill="#d0d2d5" stroke="#1d1f23" stroke-opacity=".6" stroke-width="0.9" stroke-linejoin="round" paint-order="stroke"/><path d="M8.7 24.6 10 19.5H17.4L18.7 24.6Z" fill="#2a2c30"/><rect x="13.4" y="19.5" width="0.7" height="5" fill="#fff" opacity=".35"/><rect x="9.2" y="10.2" width="1" height="2" fill="#1b1c20" opacity=".8"/><rect x="15.2" y="10.2" width="1" height="2.2" fill="#1b1c20" opacity=".8"/><rect x="10.4" y="9.8" width="0.9" height="2.4" fill="#fff" opacity=".6"/><rect x="16.6" y="9.6" width="0.9" height="2.6" fill="#fff" opacity=".6"/><rect x="12.6" y="20.5" width="1.5" height="3.5" fill="#d33"/></g></svg>
<span class="idx" style="left:10.9px;top:13.5px">8</span>
<span class="t" style="left:43.3px;top:13.0px;font-size:12.5px;line-height:16px;color:#eceef0;transform:scaleX(0.939);transform-origin:0 50%;letter-spacing:-0.300px;-webkit-text-stroke:0.2px;">Do29...3igG</span>
<svg class="i" style="left:107.7px;top:15.0px" width="12" height="12" viewBox="0 0 12 12"><g fill="none" stroke="#7f848c" stroke-width="1.05" stroke-linejoin="round" stroke-linecap="round"><path d="M7.9 1.1Q8.7 0.4 9.5 1.1L10.9 2.5Q11.6 3.3 10.9 4.1L4.3 10.7 0.9 11.1 1.3 7.7Z"/><path d="M6.5 2.6 9.4 5.5"/><path d="M7.2 11.2H10.6"/></g></svg>
<div class="bar" style="top:34px;background:#6a6f74"></div>
<span class="ex" style="left:129.0px;top:13.8px">!</span>
<svg class="i" style="left:143.0px;top:14.0px" width="12" height="12" viewBox="0 0 12 12"><g fill="#84e22a"><path d="M1.3 10.9 8.4 3.8" stroke="#84e22a" stroke-width="1.2" stroke-linecap="round"/><ellipse cx="8.7" cy="3.3" rx="3" ry="1.75" transform="rotate(-45 8.7 3.3)"/><ellipse cx="4.5" cy="3.5" rx="2.3" ry="1.25" transform="rotate(62 4.5 3.5)"/><ellipse cx="8.4" cy="7.1" rx="2.3" ry="1.25" transform="rotate(-8 8.4 7.1)"/><ellipse cx="2.3" cy="6.3" rx="2" ry="1.15" transform="rotate(55 2.3 6.3)"/><ellipse cx="5.4" cy="9.9" rx="2" ry="1.15" transform="rotate(-5 5.4 9.9)"/></g></svg>
<svg class="i" style="left:158.4px;top:14.3px" width="9.2" height="11.4" viewBox="0 0 9.6 11.4"><g fill="#7bd5ab"><circle cx="4.8" cy="2.7" r="2.7"/><path d="M0 11.4V8.6Q0 6.4 2.4 6.2L4.8 8 7.2 6.2Q9.6 6.4 9.6 8.6V11.4Z"/></g></svg>
<span class="t" style="left:271.4px;top:8.1px;font-size:12px;line-height:16px;color:#f5506f;transform:scaleX(0.950);transform-origin:0 50%;letter-spacing:-0.300px;-webkit-text-stroke:0.2px;">0%</span>
<svg class="i" style="left:292.2px;top:11.6px" width="9.6" height="9.6" viewBox="0 0 9.6 9.6"><path d="M4.8 0.6V8.6M1 5 4.8 8.8 8.6 5" fill="none" stroke="#f5506f" stroke-width="1" stroke-linecap="round" stroke-linejoin="round"/></svg>
<span class="t" style="left:271.4px;top:26.1px;font-size:12px;line-height:16px;color:#f5506f;letter-spacing:0.254px;-webkit-text-stroke:0.2px;">$0</span>
<span class="t" style="left:357.2px;top:8.1px;font-size:12px;line-height:16px;color:#f4f5f6;-webkit-text-stroke:0.35px;letter-spacing:-0.090px;">1.1</span>
<span class="t" style="left:357.2px;top:26.1px;font-size:12px;line-height:16px;color:#7b8089;letter-spacing:-0.159px;">08/06 03:33:48</span>
<span class="t" style="left:453.2px;top:8.1px;font-size:12px;line-height:16px;color:#e9eaec;transform:scaleX(0.950);transform-origin:0 50%;-webkit-text-stroke:0.35px;letter-spacing:-0.300px;">GZmV...UR</span>
<svg class="i" style="left:513.2px;top:9.7px" width="12" height="12" viewBox="0 0 12 12"><circle cx="6" cy="6" r="6" fill="#cdd0d1"/><g fill="#2b2d31"><path d="M3.6 3.1H9.1L8.2 4.6H2.7Z"/><path d="M2.7 5.25H8.2L9.1 6.75H3.6Z"/><path d="M3.6 7.4H9.1L8.2 8.9H2.7Z"/></g></svg>
<span class="t" style="left:453.2px;top:26.1px;font-size:12px;line-height:16px;color:#7b8089;letter-spacing:-0.182px;">08/06 03:17:30</span>
<span class="t" style="left:569.3px;top:16.7px;font-size:12.5px;line-height:16px;color:#f4f5f6;transform:scaleX(0.936);transform-origin:0 50%;letter-spacing:-0.300px;-webkit-text-stroke:0.2px;">Buy</span>
<span class="t" style="left:689.6px;top:8.1px;font-size:12px;line-height:16px;color:#f4f5f6;-webkit-text-stroke:0.35px;letter-spacing:-0.112px;">$518,85</span>
<span class="t" style="left:689.6px;top:26.1px;font-size:12px;line-height:16px;color:#7b8089;transform:scaleX(0.988);transform-origin:0 50%;letter-spacing:-0.300px;">9.3M / 13 TXs</span>
<span class="t" style="left:785.2px;top:8.1px;font-size:12px;line-height:16px;color:#f4f5f6;-webkit-text-stroke:0.35px;letter-spacing:0.454px;">$0</span>
<span class="t" style="left:785.2px;top:26.1px;font-size:12px;line-height:16px;color:#7b8089;transform:scaleX(0.969);transform-origin:0 50%;letter-spacing:-0.300px;">0 / 0 TXs</span>
</div>
<div class="row" style="top:400px;background:#33202a">
<svg class="i" style="left:10.8px;top:12.8px" width="24.4" height="24.4" viewBox="0 0 24.4 24.4"><circle cx="12.2" cy="12.2" r="12.2" fill="#cfc27c"/><clipPath id="cc5"><circle cx="12.2" cy="12.2" r="12.2"/></clipPath><g clip-path="url(#cc5)"><path d="M8.6 9h3.4v2.6h2.8v-2.9h4.2v3.5h1v6h-3v2.5h-6v-2.3h-2.4v-.6h-4v-4.6h3v-1h1z" fill="#62ad5c" stroke="#1d1f23" stroke-opacity=".6" stroke-width="0.9" stroke-linejoin="round" paint-order="stroke"/><path d="M8.7 24.6 10 19.5H17.4L18.7 24.6Z" fill="#e27aa5"/><rect x="13.4" y="19.5" width="0.7" height="5" fill="#fff" opacity=".35"/><rect x="9.2" y="10.2" width="1" height="2" fill="#1b1c20" opacity=".8"/><rect x="15.2" y="10.2" width="1" height="2.2" fill="#1b1c20" opacity=".8"/><rect x="10.4" y="9.8" width="0.9" height="2.4" fill="#fff" opacity=".6"/><rect x="16.6" y="9.6" width="0.9" height="2.6" fill="#fff" opacity=".6"/></g></svg>
<span class="idx" style="left:10.9px;top:13.5px">9</span>
<span class="t" style="left:43.3px;top:13.0px;font-size:12.5px;line-height:16px;color:#eceef0;transform:scaleX(0.944);transform-origin:0 50%;letter-spacing:-0.300px;-webkit-text-stroke:0.2px;">2KVF...bcXh</span>
<svg class="i" style="left:110.0px;top:15.0px" width="12" height="12" viewBox="0 0 12 12"><g fill="none" stroke="#7f848c" stroke-width="1.05" stroke-linejoin="round" stroke-linecap="round"><path d="M7.9 1.1Q8.7 0.4 9.5 1.1L10.9 2.5Q11.6 3.3 10.9 4.1L4.3 10.7 0.9 11.1 1.3 7.7Z"/><path d="M6.5 2.6 9.4 5.5"/><path d="M7.2 11.2H10.6"/></g></svg>
<div class="bar" style="top:34px;background:#6a6f74"></div>
<span class="ex" style="left:129.0px;top:13.8px">!</span>
<svg class="i" style="left:143.0px;top:14.0px" width="12" height="12" viewBox="0 0 12 12"><g fill="#84e22a"><path d="M1.3 10.9 8.4 3.8" stroke="#84e22a" stroke-width="1.2" stroke-linecap="round"/><ellipse cx="8.7" cy="3.3" rx="3" ry="1.75" transform="rotate(-45 8.7 3.3)"/><ellipse cx="4.5" cy="3.5" rx="2.3" ry="1.25" transform="rotate(62 4.5 3.5)"/><ellipse cx="8.4" cy="7.1" rx="2.3" ry="1.25" transform="rotate(-8 8.4 7.1)"/><ellipse cx="2.3" cy="6.3" rx="2" ry="1.15" transform="rotate(55 2.3 6.3)"/><ellipse cx="5.4" cy="9.9" rx="2" ry="1.15" transform="rotate(-5 5.4 9.9)"/></g></svg>
<svg class="i" style="left:158.4px;top:14.3px" width="9.2" height="11.4" viewBox="0 0 9.6 11.4"><g fill="#7bd5ab"><circle cx="4.8" cy="2.7" r="2.7"/><path d="M0 11.4V8.6Q0 6.4 2.4 6.2L4.8 8 7.2 6.2Q9.6 6.4 9.6 8.6V11.4Z"/></g></svg>
<span class="t" style="left:271.4px;top:8.1px;font-size:12px;line-height:16px;color:#f5506f;transform:scaleX(0.950);transform-origin:0 50%;letter-spacing:-0.300px;-webkit-text-stroke:0.2px;">0%</span>
<svg class="i" style="left:292.2px;top:11.6px" width="9.6" height="9.6" viewBox="0 0 9.6 9.6"><path d="M4.8 0.6V8.6M1 5 4.8 8.8 8.6 5" fill="none" stroke="#f5506f" stroke-width="1" stroke-linecap="round" stroke-linejoin="round"/></svg>
<span class="t" style="left:271.4px;top:26.1px;font-size:12px;line-height:16px;color:#f5506f;letter-spacing:0.254px;-webkit-text-stroke:0.2px;">$0</span>
<span class="t" style="left:357.2px;top:8.1px;font-size:12px;line-height:16px;color:#f4f5f6;-webkit-text-stroke:0.35px;letter-spacing:-0.007px;">0.712</span>
<span class="t" style="left:357.2px;top:26.1px;font-size:12px;line-height:16px;color:#7b8089;letter-spacing:-0.159px;">08/06 03:38:23</span>
<span class="t" style="left:453.2px;top:8.1px;font-size:12px;line-height:16px;color:#e9eaec;transform:scaleX(0.950);transform-origin:0 50%;-webkit-text-stroke:0.35px;letter-spacing:-0.300px;">GZmV...UR</span>
<svg class="i" style="left:513.2px;top:9.7px" width="12" height="12" viewBox="0 0 12 12"><circle cx="6" cy="6" r="6" fill="#cdd0d1"/><g fill="#2b2d31"><path d="M3.6 3.1H9.1L8.2 4.6H2.7Z"/><path d="M2.7 5.25H8.2L9.1 6.75H3.6Z"/><path d="M3.6 7.4H9.1L8.2 8.9H2.7Z"/></g></svg>
<span class="t" style="left:453.2px;top:26.1px;font-size:12px;line-height:16px;color:#7b8089;letter-spacing:-0.182px;">08/06 03:17:30</span>
<span class="t" style="left:569.3px;top:16.7px;font-size:12.5px;line-height:16px;color:#f4f5f6;transform:scaleX(0.936);transform-origin:0 50%;letter-spacing:-0.300px;-webkit-text-stroke:0.2px;">Buy</span>
<span class="t" style="left:689.6px;top:8.1px;font-size:12px;line-height:16px;color:#f4f5f6;-webkit-text-stroke:0.35px;letter-spacing:-0.112px;">$590,82</span>
<span class="t" style="left:689.6px;top:26.1px;font-size:12px;line-height:16px;color:#7b8089;transform:scaleX(0.988);transform-origin:0 50%;letter-spacing:-0.300px;">8.5M / 14 TXs</span>
<span class="t" style="left:785.2px;top:8.1px;font-size:12px;line-height:16px;color:#f4f5f6;-webkit-text-stroke:0.35px;letter-spacing:0.454px;">$0</span>
<span class="t" style="left:785.2px;top:26.1px;font-size:12px;line-height:16px;color:#7b8089;transform:scaleX(0.969);transform-origin:0 50%;letter-spacing:-0.300px;">0 / 0 TXs</span>
</div>
<div class="row" style="top:450px;background:#33202a">
<svg class="i" style="left:10.8px;top:12.8px" width="24.4" height="24.4" viewBox="0 0 24.4 24.4"><circle cx="12.2" cy="12.2" r="12.2" fill="#8ec5dd"/><clipPath id="cc6"><circle cx="12.2" cy="12.2" r="12.2"/></clipPath><g clip-path="url(#cc6)"><path d="M8.6 9h3.4v2.6h2.8v-2.9h4.2v3.5h1v6h-3v2.5h-6v-2.3h-2.4v-.6h-4v-4.6h3v-1h1z" fill="#9da1a6" stroke="#1d1f23" stroke-opacity=".6" stroke-width="0.9" stroke-linejoin="round" paint-order="stroke"/><path d="M8.7 24.6 10 19.5H17.4L18.7 24.6Z" fill="#77797e"/><rect x="13.4" y="19.5" width="0.7" height="5" fill="#fff" opacity=".35"/><rect x="9.2" y="10.2" width="1" height="2" fill="#1b1c20" opacity=".8"/><rect x="15.2" y="10.2" width="1" height="2.2" fill="#1b1c20" opacity=".8"/><rect x="10.4" y="9.8" width="0.9" height="2.4" fill="#fff" opacity=".6"/><rect x="16.6" y="9.6" width="0.9" height="2.6" fill="#fff" opacity=".6"/></g></svg>
<span class="idx" style="left:10.9px;top:13.5px">10</span>
<span class="t" style="left:43.3px;top:13.0px;font-size:12.5px;line-height:16px;color:#eceef0;transform:scaleX(0.917);transform-origin:0 50%;letter-spacing:-0.300px;-webkit-text-stroke:0.2px;">FmqU...X6QC</span>
<svg class="i" style="left:117.1px;top:15.0px" width="12" height="12" viewBox="0 0 12 12"><g fill="none" stroke="#7f848c" stroke-width="1.05" stroke-linejoin="round" stroke-linecap="round"><path d="M7.9 1.1Q8.7 0.4 9.5 1.1L10.9 2.5Q11.6 3.3 10.9 4.1L4.3 10.7 0.9 11.1 1.3 7.7Z"/><path d="M6.5 2.6 9.4 5.5"/><path d="M7.2 11.2H10.6"/></g></svg>
<div class="bar" style="top:34px;background:#6a6f74"></div>
<span class="ex" style="left:131.0px;top:13.8px">!</span>
<svg class="i" style="left:145.0px;top:14.0px" width="12" height="12" viewBox="0 0 12 12"><g fill="#84e22a"><path d="M1.3 10.9 8.4 3.8" stroke="#84e22a" stroke-width="1.2" stroke-linecap="round"/><ellipse cx="8.7" cy="3.3" rx="3" ry="1.75" transform="rotate(-45 8.7 3.3)"/><ellipse cx="4.5" cy="3.5" rx="2.3" ry="1.25" transform="rotate(62 4.5 3.5)"/><ellipse cx="8.4" cy="7.1" rx="2.3" ry="1.25" transform="rotate(-8 8.4 7.1)"/><ellipse cx="2.3" cy="6.3" rx="2" ry="1.15" transform="rotate(55 2.3 6.3)"/><ellipse cx="5.4" cy="9.9" rx="2" ry="1.15" transform="rotate(-5 5.4 9.9)"/></g></svg>
<svg class="i" style="left:160.4px;top:14.3px" width="9.2" height="11.4" viewBox="0 0 9.6 11.4"><g fill="#7bd5ab"><circle cx="4.8" cy="2.7" r="2.7"/><path d="M0 11.4V8.6Q0 6.4 2.4 6.2L4.8 8 7.2 6.2Q9.6 6.4 9.6 8.6V11.4Z"/></g></svg>
<span class="t" style="left:271.4px;top:8.1px;font-size:12px;line-height:16px;color:#f5506f;transform:scaleX(0.950);transform-origin:0 50%;letter-spacing:-0.300px;-webkit-text-stroke:0.2px;">0%</span>
<svg class="i" style="left:292.2px;top:11.6px" width="9.6" height="9.6" viewBox="0 0 9.6 9.6"><path d="M4.8 0.6V8.6M1 5 4.8 8.8 8.6 5" fill="none" stroke="#f5506f" stroke-width="1" stroke-linecap="round" stroke-linejoin="round"/></svg>
<span class="t" style="left:271.4px;top:26.1px;font-size:12px;line-height:16px;color:#f5506f;letter-spacing:0.254px;-webkit-text-stroke:0.2px;">$0</span>
<span class="t" style="left:357.2px;top:8.1px;font-size:12px;line-height:16px;color:#f4f5f6;-webkit-text-stroke:0.35px;letter-spacing:0.049px;">1.09</span>
<span class="t" style="left:357.2px;top:26.1px;font-size:12px;line-height:16px;color:#7b8089;letter-spacing:-0.159px;">08/06 03:39:07</span>
<span class="t" style="left:453.2px;top:8.1px;font-size:12px;line-height:16px;color:#e9eaec;transform:scaleX(0.950);transform-origin:0 50%;-webkit-text-stroke:0.35px;letter-spacing:-0.300px;">GZmV...UR</span>
<svg class="i" style="left:513.2px;top:9.7px" width="12" height="12" viewBox="0 0 12 12"><circle cx="6" cy="6" r="6" fill="#cdd0d1"/><g fill="#2b2d31"><path d="M3.6 3.1H9.1L8.2 4.6H2.7Z"/><path d="M2.7 5.25H8.2L9.1 6.75H3.6Z"/><path d="M3.6 7.4H9.1L8.2 8.9H2.7Z"/></g></svg>
<span class="t" style="left:453.2px;top:26.1px;font-size:12px;line-height:16px;color:#7b8089;letter-spacing:-0.182px;">08/06 03:17:30</span>
<span class="t" style="left:569.3px;top:16.7px;font-size:12.5px;line-height:16px;color:#f4f5f6;transform:scaleX(0.936);transform-origin:0 50%;letter-spacing:-0.300px;-webkit-text-stroke:0.2px;">Buy</span>
<span class="t" style="left:689.6px;top:8.1px;font-size:12px;line-height:16px;color:#f4f5f6;-webkit-text-stroke:0.35px;letter-spacing:-0.112px;">$521,28</span>
<span class="t" style="left:689.6px;top:26.1px;font-size:12px;line-height:16px;color:#7b8089;transform:scaleX(0.988);transform-origin:0 50%;letter-spacing:-0.300px;">7.8M / 10 TXs</span>
<span class="t" style="left:785.2px;top:8.1px;font-size:12px;line-height:16px;color:#f4f5f6;-webkit-text-stroke:0.35px;letter-spacing:-0.062px;">$120,44</span>
<span class="t" style="left:785.2px;top:26.1px;font-size:12px;line-height:16px;color:#7b8089;transform:scaleX(0.984);transform-origin:0 50%;letter-spacing:-0.300px;">7.8M / 1 TXs</span>
</div>
<div class="row" style="top:500px;background:#33202a">
<svg class="i" style="left:10.8px;top:12.8px" width="24.4" height="24.4" viewBox="0 0 24.4 24.4"><circle cx="12.2" cy="12.2" r="12.2" fill="#a88cc8"/><clipPath id="cc7"><circle cx="12.2" cy="12.2" r="12.2"/></clipPath><g clip-path="url(#cc7)"><path d="M8.6 9h3.4v2.6h2.8v-2.9h4.2v3.5h1v6h-3v2.5h-6v-2.3h-2.4v-.6h-4v-4.6h3v-1h1z" fill="#4a4c51" stroke="#1d1f23" stroke-opacity=".6" stroke-width="0.9" stroke-linejoin="round" paint-order="stroke"/><path d="M8.7 24.6 10 19.5H17.4L18.7 24.6Z" fill="#7e8186"/><rect x="13.4" y="19.5" width="0.7" height="5" fill="#fff" opacity=".35"/><rect x="9.2" y="10.2" width="1" height="2" fill="#1b1c20" opacity=".8"/><rect x="15.2" y="10.2" width="1" height="2.2" fill="#1b1c20" opacity=".8"/><rect x="10.4" y="9.8" width="0.9" height="2.4" fill="#fff" opacity=".6"/><rect x="16.6" y="9.6" width="0.9" height="2.6" fill="#fff" opacity=".6"/></g></svg>
<span class="idx" style="left:10.9px;top:13.5px">11</span>
<span class="t" style="left:43.3px;top:13.0px;font-size:12.5px;line-height:16px;color:#eceef0;transform:scaleX(0.908);transform-origin:0 50%;letter-spacing:-0.300px;-webkit-text-stroke:0.2px;">6HSY...EL3z</span>
<svg class="i" style="left:108.7px;top:15.0px" width="12" height="12" viewBox="0 0 12 12"><g fill="none" stroke="#7f848c" stroke-width="1.05" stroke-linejoin="round" stroke-linecap="round"><path d="M7.9 1.1Q8.7 0.4 9.5 1.1L10.9 2.5Q11.6 3.3 10.9 4.1L4.3 10.7 0.9 11.1 1.3 7.7Z"/><path d="M6.5 2.6 9.4 5.5"/><path d="M7.2 11.2H10.6"/></g></svg>
<div class="bar" style="top:34px;background:#6a6f74"></div>
<span class="ex" style="left:129.0px;top:13.8px">!</span>
<svg class="i" style="left:143.0px;top:14.0px" width="12" height="12" viewBox="0 0 12 12"><g fill="#84e22a"><path d="M1.3 10.9 8.4 3.8" stroke="#84e22a" stroke-width="1.2" stroke-linecap="round"/><ellipse cx="8.7" cy="3.3" rx="3" ry="1.75" transform="rotate(-45 8.7 3.3)"/><ellipse cx="4.5" cy="3.5" rx="2.3" ry="1.25" transform="rotate(62 4.5 3.5)"/><ellipse cx="8.4" cy="7.1" rx="2.3" ry="1.25" transform="rotate(-8 8.4 7.1)"/><ellipse cx="2.3" cy="6.3" rx="2" ry="1.15" transform="rotate(55 2.3 6.3)"/><ellipse cx="5.4" cy="9.9" rx="2" ry="1.15" transform="rotate(-5 5.4 9.9)"/></g></svg>
<svg class="i" style="left:157.0px;top:14.0px" width="12" height="12" viewBox="0 0 12 12"><g fill="#ee5a7c"><path d="M6 1 11.2 3.6 6 6.2 0.8 3.6Z"/><path d="M0.8 5.8 2.2 5.1 6 7 9.8 5.1 11.2 5.8 6 8.4Z"/><path d="M0.8 8 2.2 7.3 6 9.2 9.8 7.3 11.2 8 6 10.6Z"/></g></svg>
<svg class="i" style="left:172.4px;top:14.3px" width="9.2" height="11.4" viewBox="0 0 9.6 11.4"><g fill="#7bd5ab"><circle cx="4.8" cy="2.7" r="2.7"/><path d="M0 11.4V8.6Q0 6.4 2.4 6.2L4.8 8 7.2 6.2Q9.6 6.4 9.6 8.6V11.4Z"/></g></svg>
<span class="t" style="left:271.4px;top:8.1px;font-size:12px;line-height:16px;color:#f5506f;transform:scaleX(0.950);transform-origin:0 50%;letter-spacing:-0.300px;-webkit-text-stroke:0.2px;">0%</span>
<svg class="i" style="left:292.2px;top:11.6px" width="9.6" height="9.6" viewBox="0 0 9.6 9.6"><path d="M4.8 0.6V8.6M1 5 4.8 8.8 8.6 5" fill="none" stroke="#f5506f" stroke-width="1" stroke-linecap="round" stroke-linejoin="round"/></svg>
<span class="t" style="left:271.4px;top:26.1px;font-size:12px;line-height:16px;color:#f5506f;letter-spacing:0.254px;-webkit-text-stroke:0.2px;">$0</span>
<span class="t" style="left:357.2px;top:8.1px;font-size:12px;line-height:16px;color:#f4f5f6;-webkit-text-stroke:0.35px;letter-spacing:0.049px;">1.19</span>
<span class="t" style="left:357.2px;top:26.1px;font-size:12px;line-height:16px;color:#7b8089;letter-spacing:-0.159px;">08/06 03:37:51</span>
<span class="t" style="left:453.2px;top:8.1px;font-size:12px;line-height:16px;color:#e9eaec;transform:scaleX(0.950);transform-origin:0 50%;-webkit-text-stroke:0.35px;letter-spacing:-0.300px;">GZmV...UR</span>
<svg class="i" style="left:513.2px;top:9.7px" width="12" height="12" viewBox="0 0 12 12"><circle cx="6" cy="6" r="6" fill="#cdd0d1"/><g fill="#2b2d31"><path d="M3.6 3.1H9.1L8.2 4.6H2.7Z"/><path d="M2.7 5.25H8.2L9.1 6.75H3.6Z"/><path d="M3.6 7.4H9.1L8.2 8.9H2.7Z"/></g></svg>
<span class="t" style="left:453.2px;top:26.1px;font-size:12px;line-height:16px;color:#7b8089;letter-spacing:-0.182px;">08/06 03:17:30</span>
<span class="t" style="left:569.3px;top:16.7px;font-size:12.5px;line-height:16px;color:#f4f5f6;transform:scaleX(0.936);transform-origin:0 50%;letter-spacing:-0.300px;-webkit-text-stroke:0.2px;">Buy</span>
<span class="t" style="left:689.6px;top:8.1px;font-size:12px;line-height:16px;color:#f4f5f6;-webkit-text-stroke:0.35px;letter-spacing:-0.112px;">$503,08</span>
<span class="t" style="left:689.6px;top:26.1px;font-size:12px;line-height:16px;color:#7b8089;letter-spacing:-0.299px;">7.6M / 11 TXs</span>
<span class="t" style="left:785.2px;top:8.1px;font-size:12px;line-height:16px;color:#f4f5f6;-webkit-text-stroke:0.35px;letter-spacing:-0.140px;">$131,1</span>
<span class="t" style="left:785.2px;top:26.1px;font-size:12px;line-height:16px;color:#7b8089;transform:scaleX(0.984);transform-origin:0 50%;letter-spacing:-0.300px;">7.6M / 1 TXs</span>
</div>
<div class="row" style="top:550px;">
<svg class="i" style="left:10.8px;top:12.8px" width="24.4" height="24.4" viewBox="0 0 24.4 24.4"><circle cx="12.2" cy="12.2" r="12.2" fill="#80bbd1"/><clipPath id="cc8"><circle cx="12.2" cy="12.2" r="12.2"/></clipPath><g clip-path="url(#cc8)"><path d="M8.6 9h3.4v2.6h2.8v-2.9h4.2v3.5h1v6h-3v2.5h-6v-2.3h-2.4v-.6h-4v-4.6h3v-1h1z" fill="#3f4246" stroke="#1d1f23" stroke-opacity=".6" stroke-width="0.9" stroke-linejoin="round" paint-order="stroke"/><path d="M8.7 24.6 10 19.5H17.4L18.7 24.6Z" fill="#e0633a"/><rect x="13.4" y="19.5" width="0.7" height="5" fill="#fff" opacity=".35"/><rect x="9.2" y="10.2" width="1" height="2" fill="#1b1c20" opacity=".8"/><rect x="15.2" y="10.2" width="1" height="2.2" fill="#1b1c20" opacity=".8"/><rect x="10.4" y="9.8" width="0.9" height="2.4" fill="#fff" opacity=".6"/><rect x="16.6" y="9.6" width="0.9" height="2.6" fill="#fff" opacity=".6"/></g></svg>
<span class="idx" style="left:10.9px;top:13.5px">12</span>
<span class="t" style="left:43.3px;top:13.0px;font-size:12.5px;line-height:16px;color:#f7a0be;transform:scaleX(0.922);transform-origin:0 50%;letter-spacing:-0.300px;-webkit-text-stroke:0.2px;">F7VG...6SJo</span>
<svg class="i" style="left:111.1px;top:15.0px" width="12" height="12" viewBox="0 0 12 12"><g fill="none" stroke="#7f848c" stroke-width="1.05" stroke-linejoin="round" stroke-linecap="round"><path d="M7.9 1.1Q8.7 0.4 9.5 1.1L10.9 2.5Q11.6 3.3 10.9 4.1L4.3 10.7 0.9 11.1 1.3 7.7Z"/><path d="M6.5 2.6 9.4 5.5"/><path d="M7.2 11.2H10.6"/></g></svg>
<div class="bar" style="top:34px;background:#d3d6d8"></div>
<svg class="i" style="left:129.0px;top:14.0px" width="12" height="12" viewBox="0 0 12 12"><g fill="#84e22a"><path d="M1.3 10.9 8.4 3.8" stroke="#84e22a" stroke-width="1.2" stroke-linecap="round"/><ellipse cx="8.7" cy="3.3" rx="3" ry="1.75" transform="rotate(-45 8.7 3.3)"/><ellipse cx="4.5" cy="3.5" rx="2.3" ry="1.25" transform="rotate(62 4.5 3.5)"/><ellipse cx="8.4" cy="7.1" rx="2.3" ry="1.25" transform="rotate(-8 8.4 7.1)"/><ellipse cx="2.3" cy="6.3" rx="2" ry="1.15" transform="rotate(55 2.3 6.3)"/><ellipse cx="5.4" cy="9.9" rx="2" ry="1.15" transform="rotate(-5 5.4 9.9)"/></g></svg>
<svg class="i" style="left:143.4px;top:14.6px" width="12" height="11" viewBox="0 0 12 11"><path d="M2.6 0.2H9.4Q11.6 0.2 11.6 2.6V10.8H5.2V3.8Q5.2 0.2 2.6 0.2Z" fill="#f4f5f5"/><ellipse cx="2.6" cy="3.7" rx="2.4" ry="3.4" fill="#f4f5f5"/><ellipse cx="2.7" cy="3.7" rx="0.9" ry="1.5" fill="#26282c"/></svg>
<span class="t" style="left:271.4px;top:8.1px;font-size:12px;line-height:16px;color:#e9eaec;transform:scaleX(0.990);transform-origin:0 50%;-webkit-text-stroke:0.35px;letter-spacing:-0.300px;">0.63%</span>
<span class="t" style="left:271.4px;top:26.1px;font-size:12px;line-height:16px;color:#7b8089;transform:scaleX(0.994);transform-origin:0 50%;letter-spacing:-0.300px;">$52.91</span>
<span class="t" style="left:357.2px;top:8.1px;font-size:12px;line-height:16px;color:#f4f5f6;-webkit-text-stroke:0.35px;letter-spacing:0.049px;">1.91</span>
<span class="t" style="left:357.2px;top:26.1px;font-size:12px;line-height:16px;color:#7b8089;letter-spacing:-0.159px;">08/06 03:35:21</span>
<span class="t" style="left:453.2px;top:8.1px;font-size:12px;line-height:16px;color:#e9eaec;transform:scaleX(0.950);transform-origin:0 50%;-webkit-text-stroke:0.35px;letter-spacing:-0.300px;">GZmV...UR</span>
<svg class="i" style="left:513.2px;top:9.7px" width="12" height="12" viewBox="0 0 12 12"><circle cx="6" cy="6" r="6" fill="#cdd0d1"/><g fill="#2b2d31"><path d="M3.6 3.1H9.1L8.2 4.6H2.7Z"/><path d="M2.7 5.25H8.2L9.1 6.75H3.6Z"/><path d="M3.6 7.4H9.1L8.2 8.9H2.7Z"/></g></svg>
<span class="t" style="left:453.2px;top:26.1px;font-size:12px;line-height:16px;color:#7b8089;letter-spacing:-0.182px;">08/06 03:17:30</span>
<span class="t" style="left:569.3px;top:16.7px;font-size:12.5px;line-height:16px;color:#f4f5f6;transform:scaleX(0.936);transform-origin:0 50%;letter-spacing:-0.300px;-webkit-text-stroke:0.2px;">Buy</span>
<span class="t" style="left:689.6px;top:8.1px;font-size:12px;line-height:16px;color:#f4f5f6;-webkit-text-stroke:0.35px;letter-spacing:-0.112px;">$374,35</span>
<span class="t" style="left:689.6px;top:26.1px;font-size:12px;line-height:16px;color:#7b8089;transform:scaleX(0.984);transform-origin:0 50%;letter-spacing:-0.300px;">6.3M / 8 TXs</span>
<span class="t" style="left:785.2px;top:8.1px;font-size:12px;line-height:16px;color:#f4f5f6;-webkit-text-stroke:0.35px;letter-spacing:0.454px;">$0</span>
<span class="t" style="left:785.2px;top:26.1px;font-size:12px;line-height:16px;color:#7b8089;transform:scaleX(0.969);transform-origin:0 50%;letter-spacing:-0.300px;">0 / 0 TXs</span>
</div>
<div class="row" style="top:600px;background:#202226">
<svg class="i" style="left:10.8px;top:12.8px" width="24.4" height="24.4" viewBox="0 0 24.4 24.4"><circle cx="12.2" cy="12.2" r="12.2" fill="#c8916a"/><clipPath id="cc9"><circle cx="12.2" cy="12.2" r="12.2"/></clipPath><g clip-path="url(#cc9)"><path d="M8.6 9h3.4v2.6h2.8v-2.9h4.2v3.5h1v6h-3v2.5h-6v-2.3h-2.4v-.6h-4v-4.6h3v-1h1z" fill="#e3b93c" stroke="#1d1f23" stroke-opacity=".6" stroke-width="0.9" stroke-linejoin="round" paint-order="stroke"/><path d="M8.7 24.6 10 19.5H17.4L18.7 24.6Z" fill="#e7a531"/><rect x="13.4" y="19.5" width="0.7" height="5" fill="#fff" opacity=".35"/><rect x="9.2" y="10.2" width="1" height="2" fill="#1b1c20" opacity=".8"/><rect x="15.2" y="10.2" width="1" height="2.2" fill="#1b1c20" opacity=".8"/><rect x="10.4" y="9.8" width="0.9" height="2.4" fill="#fff" opacity=".6"/><rect x="16.6" y="9.6" width="0.9" height="2.6" fill="#fff" opacity=".6"/><rect x="8" y="12.6" width="10" height="2" fill="#5aa0c8"/></g></svg>
<span class="idx" style="left:10.9px;top:13.5px">13</span>
<span class="t" style="left:43.3px;top:13.0px;font-size:12.5px;line-height:16px;color:#eceef0;transform:scaleX(0.946);transform-origin:0 50%;letter-spacing:-0.300px;-webkit-text-stroke:0.2px;">9DBq...kqhx</span>
<svg class="i" style="left:109.5px;top:15.0px" width="12" height="12" viewBox="0 0 12 12"><g fill="none" stroke="#7f848c" stroke-width="1.05" stroke-linejoin="round" stroke-linecap="round"><path d="M7.9 1.1Q8.7 0.4 9.5 1.1L10.9 2.5Q11.6 3.3 10.9 4.1L4.3 10.7 0.9 11.1 1.3 7.7Z"/><path d="M6.5 2.6 9.4 5.5"/><path d="M7.2 11.2H10.6"/></g></svg>
<div class="bar" style="top:34px;background:#6a6f74"></div>
<span class="ex" style="left:129.0px;top:13.8px">!</span>
<svg class="i" style="left:143.0px;top:14.0px" width="12" height="12" viewBox="0 0 12 12"><g fill="#84e22a"><path d="M1.3 10.9 8.4 3.8" stroke="#84e22a" stroke-width="1.2" stroke-linecap="round"/><ellipse cx="8.7" cy="3.3" rx="3" ry="1.75" transform="rotate(-45 8.7 3.3)"/><ellipse cx="4.5" cy="3.5" rx="2.3" ry="1.25" transform="rotate(62 4.5 3.5)"/><ellipse cx="8.4" cy="7.1" rx="2.3" ry="1.25" transform="rotate(-8 8.4 7.1)"/><ellipse cx="2.3" cy="6.3" rx="2" ry="1.15" transform="rotate(55 2.3 6.3)"/><ellipse cx="5.4" cy="9.9" rx="2" ry="1.15" transform="rotate(-5 5.4 9.9)"/></g></svg>
<span class="t" style="left:271.4px;top:8.1px;font-size:12px;line-height:16px;color:#f5506f;transform:scaleX(0.950);transform-origin:0 50%;letter-spacing:-0.300px;-webkit-text-stroke:0.2px;">0%</span>
<svg class="i" style="left:292.2px;top:11.6px" width="9.6" height="9.6" viewBox="0 0 9.6 9.6"><path d="M4.8 0.6V8.6M1 5 4.8 8.8 8.6 5" fill="none" stroke="#f5506f" stroke-width="1" stroke-linecap="round" stroke-linejoin="round"/></svg>
<span class="t" style="left:271.4px;top:26.1px;font-size:12px;line-height:16px;color:#f5506f;letter-spacing:0.254px;-webkit-text-stroke:0.2px;">$0</span>
<span class="t" style="left:357.2px;top:8.1px;font-size:12px;line-height:16px;color:#f4f5f6;-webkit-text-stroke:0.35px;letter-spacing:0.049px;">1.66</span>
<span class="t" style="left:357.2px;top:26.1px;font-size:12px;line-height:16px;color:#7b8089;letter-spacing:-0.159px;">08/06 03:34:01</span>
<span class="t" style="left:453.2px;top:8.1px;font-size:12px;line-height:16px;color:#e9eaec;transform:scaleX(0.950);transform-origin:0 50%;-webkit-text-stroke:0.35px;letter-spacing:-0.300px;">GZmV...UR</span>
<svg class="i" style="left:513.2px;top:9.7px" width="12" height="12" viewBox="0 0 12 12"><circle cx="6" cy="6" r="6" fill="#cdd0d1"/><g fill="#2b2d31"><path d="M3.6 3.1H9.1L8.2 4.6H2.7Z"/><path d="M2.7 5.25H8.2L9.1 6.75H3.6Z"/><path d="M3.6 7.4H9.1L8.2 8.9H2.7Z"/></g></svg>
<span class="t" style="left:453.2px;top:26.1px;font-size:12px;line-height:16px;color:#7b8089;letter-spacing:-0.182px;">08/06 03:17:30</span>
<span class="t" style="left:569.3px;top:16.7px;font-size:12.5px;line-height:16px;color:#f4f5f6;transform:scaleX(0.936);transform-origin:0 50%;letter-spacing:-0.300px;-webkit-text-stroke:0.2px;">Buy</span>
<span class="t" style="left:689.6px;top:8.1px;font-size:12px;line-height:16px;color:#f4f5f6;-webkit-text-stroke:0.35px;letter-spacing:-0.112px;">$419,97</span>
<span class="t" style="left:689.6px;top:26.1px;font-size:12px;line-height:16px;color:#7b8089;transform:scaleX(0.984);transform-origin:0 50%;letter-spacing:-0.300px;">6M / 12 TXs</span>
<span class="t" style="left:785.2px;top:8.1px;font-size:12px;line-height:16px;color:#f4f5f6;-webkit-text-stroke:0.35px;letter-spacing:-0.040px;">$75.31</span>
<span class="t" style="left:785.2px;top:26.1px;font-size:12px;line-height:16px;color:#7b8089;transform:scaleX(0.980);transform-origin:0 50%;letter-spacing:-0.300px;">6M / 1 TXs</span>
</div>
<div class="row" style="top:650px;">
<svg class="i" style="left:10.8px;top:12.8px" width="24.4" height="24.4" viewBox="0 0 24.4 24.4"><circle cx="12.2" cy="12.2" r="12.2" fill="#74b884"/><clipPath id="cc10"><circle cx="12.2" cy="12.2" r="12.2"/></clipPath><g clip-path="url(#cc10)"><path d="M8.6 9h3.4v2.6h2.8v-2.9h4.2v3.5h1v6h-3v2.5h-6v-2.3h-2.4v-.6h-4v-4.6h3v-1h1z" fill="#5aa6c8" stroke="#1d1f23" stroke-opacity=".6" stroke-width="0.9" stroke-linejoin="round" paint-order="stroke"/><path d="M8.7 24.6 10 19.5H17.4L18.7 24.6Z" fill="#3f6fc0"/><rect x="13.4" y="19.5" width="0.7" height="5" fill="#fff" opacity=".35"/><rect x="9.2" y="10.2" width="1" height="2" fill="#1b1c20" opacity=".8"/><rect x="15.2" y="10.2" width="1" height="2.2" fill="#1b1c20" opacity=".8"/><rect x="10.4" y="9.8" width="0.9" height="2.4" fill="#fff" opacity=".6"/><rect x="16.6" y="9.6" width="0.9" height="2.6" fill="#fff" opacity=".6"/><path d="M11 10.5Q11 6 15.5 6T20 10.5Z" fill="#e8963a"/></g></svg>
<span class="idx" style="left:10.9px;top:13.5px">14</span>
<span class="t" style="left:43.3px;top:13.0px;font-size:12.5px;line-height:16px;color:#eceef0;transform:scaleX(0.906);transform-origin:0 50%;letter-spacing:-0.300px;-webkit-text-stroke:0.2px;">CVMC...zYsB</span>
<svg class="i" style="left:114.4px;top:15.0px" width="12" height="12" viewBox="0 0 12 12"><g fill="none" stroke="#7f848c" stroke-width="1.05" stroke-linejoin="round" stroke-linecap="round"><path d="M7.9 1.1Q8.7 0.4 9.5 1.1L10.9 2.5Q11.6 3.3 10.9 4.1L4.3 10.7 0.9 11.1 1.3 7.7Z"/><path d="M6.5 2.6 9.4 5.5"/><path d="M7.2 11.2H10.6"/></g></svg>
<div class="bar" style="top:34px;background:#d3d6d8"></div>
<svg class="i" style="left:129.4px;top:13.8px" width="11.4" height="11.6" viewBox="0 0 12 12"><g fill="#ee5f80" transform="rotate(45 6 6)"><ellipse cx="4.4" cy="6" rx="5.2" ry="3.1"/><path d="M8.6 6 12.6 3V9Z"/></g><circle cx="2.4" cy="2.9" r="0.65" fill="#1a1b1e"/></svg>
<span class="t" style="left:271.4px;top:8.1px;font-size:12px;line-height:16px;color:#e9eaec;transform:scaleX(0.990);transform-origin:0 50%;-webkit-text-stroke:0.35px;letter-spacing:-0.300px;">0.53%</span>
<span class="t" style="left:271.4px;top:26.1px;font-size:12px;line-height:16px;color:#7b8089;letter-spacing:-0.240px;">$44.56</span>
<span class="t" style="left:357.2px;top:8.1px;font-size:12px;line-height:16px;color:#f4f5f6;-webkit-text-stroke:0.35px;letter-spacing:0.049px;">0.01</span>
<span class="t" style="left:357.2px;top:26.1px;font-size:12px;line-height:16px;color:#7b8089;letter-spacing:-0.159px;">08/08 04:07:07</span>
<span class="t" style="left:453.8px;top:17.5px;font-size:12px;line-height:16px;color:#7b8089;letter-spacing:0.009px;">--</span>
<span class="t" style="left:569.3px;top:8.1px;font-size:12px;line-height:16px;color:#f7a0be;transform:scaleX(0.980);transform-origin:0 50%;-webkit-text-stroke:0.35px;letter-spacing:-0.300px;">C1qP...Kpv</span>
<svg class="i" style="left:629.0px;top:9.7px" width="12" height="12" viewBox="0 0 12 12"><circle cx="6" cy="6" r="6" fill="#cdd0d1"/><g fill="#2b2d31"><path d="M3.6 3.1H9.1L8.2 4.6H2.7Z"/><path d="M2.7 5.25H8.2L9.1 6.75H3.6Z"/><path d="M3.6 7.4H9.1L8.2 8.9H2.7Z"/></g></svg>
<span class="t" style="left:569.3px;top:26.1px;font-size:12px;line-height:16px;color:#7b8089;letter-spacing:-0.205px;">08/09 09:49:04</span>
<span class="t" style="left:689.6px;top:8.1px;font-size:12px;line-height:16px;color:#f4f5f6;-webkit-text-stroke:0.35px;letter-spacing:0.454px;">$0</span>
<span class="t" style="left:689.6px;top:26.1px;font-size:12px;line-height:16px;color:#7b8089;transform:scaleX(0.977);transform-origin:0 50%;letter-spacing:-0.300px;">5.3M / 0 TXs</span>
<span class="t" style="left:785.2px;top:8.1px;font-size:12px;line-height:16px;color:#f4f5f6;-webkit-text-stroke:0.35px;letter-spacing:0.454px;">$0</span>
<span class="t" style="left:785.2px;top:26.1px;font-size:12px;line-height:16px;color:#7b8089;transform:scaleX(0.969);transform-origin:0 50%;letter-spacing:-0.300px;">0 / 0 TXs</span>
</div>
<div class="row" style="top:700px;">
<svg class="i" style="left:10.8px;top:12.8px" width="24.4" height="24.4" viewBox="0 0 24.4 24.4"><circle cx="12.2" cy="12.2" r="12.2" fill="#c48e6c"/><clipPath id="cc11"><circle cx="12.2" cy="12.2" r="12.2"/></clipPath><g clip-path="url(#cc11)"><path d="M8.6 9h3.4v2.6h2.8v-2.9h4.2v3.5h1v6h-3v2.5h-6v-2.3h-2.4v-.6h-4v-4.6h3v-1h1z" fill="#c3c5c8" stroke="#1d1f23" stroke-opacity=".6" stroke-width="0.9" stroke-linejoin="round" paint-order="stroke"/><path d="M8.7 24.6 10 19.5H17.4L18.7 24.6Z" fill="#8b8e93"/><rect x="13.4" y="19.5" width="0.7" height="5" fill="#fff" opacity=".35"/><rect x="9.2" y="10.2" width="1" height="2" fill="#1b1c20" opacity=".8"/><rect x="15.2" y="10.2" width="1" height="2.2" fill="#1b1c20" opacity=".8"/><rect x="10.4" y="9.8" width="0.9" height="2.4" fill="#fff" opacity=".6"/><rect x="16.6" y="9.6" width="0.9" height="2.6" fill="#fff" opacity=".6"/><path d="M11.5 10V6.5L13.5 8 15 6 16.5 8 18.5 6.5V10Z" fill="#e8633a"/></g></svg>
<span class="idx" style="left:10.9px;top:13.5px">15</span>
<span class="t" style="left:43.3px;top:13.0px;font-size:12.5px;line-height:16px;color:#eceef0;transform:scaleX(0.942);transform-origin:0 50%;letter-spacing:-0.300px;-webkit-text-stroke:0.2px;">FWPg...WGpM</span>
<svg class="i" style="left:124.2px;top:15.0px" width="12" height="12" viewBox="0 0 12 12"><g fill="none" stroke="#7f848c" stroke-width="1.05" stroke-linejoin="round" stroke-linecap="round"><path d="M7.9 1.1Q8.7 0.4 9.5 1.1L10.9 2.5Q11.6 3.3 10.9 4.1L4.3 10.7 0.9 11.1 1.3 7.7Z"/><path d="M6.5 2.6 9.4 5.5"/><path d="M7.2 11.2H10.6"/></g></svg>
<div class="bar" style="top:34px;background:#d3d6d8"></div>
<svg class="i" style="left:138.4px;top:13.8px" width="11.4" height="11.6" viewBox="0 0 12 12"><g fill="#ee5f80" transform="rotate(45 6 6)"><ellipse cx="4.4" cy="6" rx="5.2" ry="3.1"/><path d="M8.6 6 12.6 3V9Z"/></g><circle cx="2.4" cy="2.9" r="0.65" fill="#1a1b1e"/></svg>
<span class="t" style="left:271.4px;top:8.1px;font-size:12px;line-height:16px;color:#e9eaec;transform:scaleX(0.990);transform-origin:0 50%;-webkit-text-stroke:0.35px;letter-spacing:-0.300px;">0.53%</span>
<span class="t" style="left:271.4px;top:26.1px;font-size:12px;line-height:16px;color:#7b8089;letter-spacing:-0.240px;">$44.56</span>
<span class="t" style="left:357.2px;top:8.1px;font-size:12px;line-height:16px;color:#f4f5f6;-webkit-text-stroke:0.35px;letter-spacing:0.049px;">0.01</span>
<span class="t" style="left:357.2px;top:26.1px;font-size:12px;line-height:16px;color:#7b8089;letter-spacing:-0.159px;">08/08 04:09:21</span>
<span class="t" style="left:453.8px;top:17.5px;font-size:12px;line-height:16px;color:#7b8089;letter-spacing:0.009px;">--</span>
<span class="t" style="left:569.3px;top:8.1px;font-size:12px;line-height:16px;color:#f7a0be;transform:scaleX(0.980);transform-origin:0 50%;-webkit-text-stroke:0.35px;letter-spacing:-0.300px;">C1qP...Kpv</span>
<svg class="i" style="left:629.0px;top:9.7px" width="12" height="12" viewBox="0 0 12 12"><circle cx="6" cy="6" r="6" fill="#cdd0d1"/><g fill="#2b2d31"><path d="M3.6 3.1H9.1L8.2 4.6H2.7Z"/><path d="M2.7 5.25H8.2L9.1 6.75H3.6Z"/><path d="M3.6 7.4H9.1L8.2 8.9H2.7Z"/></g></svg>
<span class="t" style="left:569.3px;top:26.1px;font-size:12px;line-height:16px;color:#7b8089;letter-spacing:-0.205px;">08/09 09:49:07</span>
<span class="t" style="left:689.6px;top:8.1px;font-size:12px;line-height:16px;color:#f4f5f6;-webkit-text-stroke:0.35px;letter-spacing:0.454px;">$0</span>
<span class="t" style="left:689.6px;top:26.1px;font-size:12px;line-height:16px;color:#7b8089;transform:scaleX(0.977);transform-origin:0 50%;letter-spacing:-0.300px;">5.3M / 0 TXs</span>
<span class="t" style="left:785.2px;top:8.1px;font-size:12px;line-height:16px;color:#f4f5f6;-webkit-text-stroke:0.35px;letter-spacing:0.454px;">$0</span>
<span class="t" style="left:785.2px;top:26.1px;font-size:12px;line-height:16px;color:#7b8089;transform:scaleX(0.969);transform-origin:0 50%;letter-spacing:-0.300px;">0 / 0 TXs</span>
</div>
<div class="row" style="top:750px;">
<svg class="i" style="left:10.8px;top:12.8px" width="24.4" height="24.4" viewBox="0 0 24.4 24.4"><circle cx="12.2" cy="12.2" r="12.2" fill="#b3b1dc"/><clipPath id="cc12"><circle cx="12.2" cy="12.2" r="12.2"/></clipPath><g clip-path="url(#cc12)"><path d="M8.6 9h3.4v2.6h2.8v-2.9h4.2v3.5h1v6h-3v2.5h-6v-2.3h-2.4v-.6h-4v-4.6h3v-1h1z" fill="#3f4247" stroke="#1d1f23" stroke-opacity=".6" stroke-width="0.9" stroke-linejoin="round" paint-order="stroke"/><path d="M8.7 24.6 10 19.5H17.4L18.7 24.6Z" fill="#e8963a"/><rect x="13.4" y="19.5" width="0.7" height="5" fill="#fff" opacity=".35"/><rect x="9.2" y="10.2" width="1" height="2" fill="#1b1c20" opacity=".8"/><rect x="15.2" y="10.2" width="1" height="2.2" fill="#1b1c20" opacity=".8"/><rect x="10.4" y="9.8" width="0.9" height="2.4" fill="#fff" opacity=".6"/><rect x="16.6" y="9.6" width="0.9" height="2.6" fill="#fff" opacity=".6"/></g></svg>
<span class="idx" style="left:10.9px;top:13.5px">16</span>
<span class="t" style="left:43.3px;top:13.0px;font-size:12.5px;line-height:16px;color:#eceef0;transform:scaleX(0.961);transform-origin:0 50%;letter-spacing:-0.300px;-webkit-text-stroke:0.2px;">2bMF...JcC6</span>
<svg class="i" style="left:111.8px;top:15.0px" width="12" height="12" viewBox="0 0 12 12"><g fill="none" stroke="#7f848c" stroke-width="1.05" stroke-linejoin="round" stroke-linecap="round"><path d="M7.9 1.1Q8.7 0.4 9.5 1.1L10.9 2.5Q11.6 3.3 10.9 4.1L4.3 10.7 0.9 11.1 1.3 7.7Z"/><path d="M6.5 2.6 9.4 5.5"/><path d="M7.2 11.2H10.6"/></g></svg>
<div class="bar" style="top:34px;background:#d3d6d8"></div>
<svg class="i" style="left:129.4px;top:13.8px" width="11.4" height="11.6" viewBox="0 0 12 12"><g fill="#ee5f80" transform="rotate(45 6 6)"><ellipse cx="4.4" cy="6" rx="5.2" ry="3.1"/><path d="M8.6 6 12.6 3V9Z"/></g><circle cx="2.4" cy="2.9" r="0.65" fill="#1a1b1e"/></svg>
<span class="t" style="left:271.4px;top:8.1px;font-size:12px;line-height:16px;color:#e9eaec;transform:scaleX(0.990);transform-origin:0 50%;-webkit-text-stroke:0.35px;letter-spacing:-0.300px;">0.53%</span>
<span class="t" style="left:271.4px;top:26.1px;font-size:12px;line-height:16px;color:#7b8089;letter-spacing:-0.240px;">$44.56</span>
<span class="t" style="left:357.2px;top:8.1px;font-size:12px;line-height:16px;color:#f4f5f6;-webkit-text-stroke:0.35px;letter-spacing:0.049px;">0.01</span>
<span class="t" style="left:357.2px;top:26.1px;font-size:12px;line-height:16px;color:#7b8089;letter-spacing:-0.159px;">08/08 04:07:03</span>
<span class="t" style="left:453.8px;top:17.5px;font-size:12px;line-height:16px;color:#7b8089;letter-spacing:0.009px;">--</span>
<span class="t" style="left:569.3px;top:8.1px;font-size:12px;line-height:16px;color:#f7a0be;transform:scaleX(0.980);transform-origin:0 50%;-webkit-text-stroke:0.35px;letter-spacing:-0.300px;">C1qP...Kpv</span>
<svg class="i" style="left:629.0px;top:9.7px" width="12" height="12" viewBox="0 0 12 12"><circle cx="6" cy="6" r="6" fill="#cdd0d1"/><g fill="#2b2d31"><path d="M3.6 3.1H9.1L8.2 4.6H2.7Z"/><path d="M2.7 5.25H8.2L9.1 6.75H3.6Z"/><path d="M3.6 7.4H9.1L8.2 8.9H2.7Z"/></g></svg>
<span class="t" style="left:569.3px;top:26.1px;font-size:12px;line-height:16px;color:#7b8089;letter-spacing:-0.205px;">08/09 09:49:04</span>
<span class="t" style="left:689.6px;top:8.1px;font-size:12px;line-height:16px;color:#f4f5f6;-webkit-text-stroke:0.35px;letter-spacing:0.454px;">$0</span>
<span class="t" style="left:689.6px;top:26.1px;font-size:12px;line-height:16px;color:#7b8089;transform:scaleX(0.977);transform-origin:0 50%;letter-spacing:-0.300px;">5.3M / 0 TXs</span>
<span class="t" style="left:785.2px;top:8.1px;font-size:12px;line-height:16px;color:#f4f5f6;-webkit-text-stroke:0.35px;letter-spacing:0.454px;">$0</span>
<span class="t" style="left:785.2px;top:26.1px;font-size:12px;line-height:16px;color:#7b8089;transform:scaleX(0.969);transform-origin:0 50%;letter-spacing:-0.300px;">0 / 0 TXs</span>
</div>
<div class="row" style="top:800px;">
<svg class="i" style="left:10.8px;top:12.8px" width="24.4" height="24.4" viewBox="0 0 24.4 24.4"><circle cx="12.2" cy="12.2" r="12.2" fill="#8fc6dd"/><clipPath id="cc13"><circle cx="12.2" cy="12.2" r="12.2"/></clipPath><g clip-path="url(#cc13)"><path d="M8.6 9h3.4v2.6h2.8v-2.9h4.2v3.5h1v6h-3v2.5h-6v-2.3h-2.4v-.6h-4v-4.6h3v-1h1z" fill="#9a9ea3" stroke="#1d1f23" stroke-opacity=".6" stroke-width="0.9" stroke-linejoin="round" paint-order="stroke"/><path d="M8.7 24.6 10 19.5H17.4L18.7 24.6Z" fill="#4a8fc4"/><rect x="13.4" y="19.5" width="0.7" height="5" fill="#fff" opacity=".35"/><rect x="9.2" y="10.2" width="1" height="2" fill="#1b1c20" opacity=".8"/><rect x="15.2" y="10.2" width="1" height="2.2" fill="#1b1c20" opacity=".8"/><rect x="10.4" y="9.8" width="0.9" height="2.4" fill="#fff" opacity=".6"/><rect x="16.6" y="9.6" width="0.9" height="2.6" fill="#fff" opacity=".6"/></g></svg>
<span class="idx" style="left:10.9px;top:13.5px">17</span>
<svg class="i" style="left:109.9px;top:15.0px" width="12" height="12" viewBox="0 0 12 12"><g fill="none" stroke="#7f848c" stroke-width="1.05" stroke-linejoin="round" stroke-linecap="round"><path d="M7.9 1.1Q8.7 0.4 9.5 1.1L10.9 2.5Q11.6 3.3 10.9 4.1L4.3 10.7 0.9 11.1 1.3 7.7Z"/><path d="M6.5 2.6 9.4 5.5"/><path d="M7.2 11.2H10.6"/></g></svg>
<svg class="i" style="left:129.4px;top:13.8px" width="11.4" height="11.6" viewBox="0 0 12 12"><g fill="#ee5f80" transform="rotate(45 6 6)"><ellipse cx="4.4" cy="6" rx="5.2" ry="3.1"/><path d="M8.6 6 12.6 3V9Z"/></g><circle cx="2.4" cy="2.9" r="0.65" fill="#1a1b1e"/></svg>
<span class="t" style="left:271.4px;top:8.1px;font-size:12px;line-height:16px;color:#f5506f;transform:scaleX(0.950);transform-origin:0 50%;letter-spacing:-0.300px;-webkit-text-stroke:0.2px;">0%</span>
<svg class="i" style="left:292.2px;top:11.6px" width="9.6" height="9.6" viewBox="0 0 9.6 9.6"><path d="M4.8 0.6V8.6M1 5 4.8 8.8 8.6 5" fill="none" stroke="#f5506f" stroke-width="1" stroke-linecap="round" stroke-linejoin="round"/></svg>
<span class="t" style="left:357.2px;top:8.1px;font-size:12px;line-height:16px;color:#f4f5f6;-webkit-text-stroke:0.35px;letter-spacing:0.049px;">0.01</span>
<span class="t" style="left:453.8px;top:17.5px;font-size:12px;line-height:16px;color:#7b8089;letter-spacing:0.009px;">--</span>
<span class="t" style="left:569.3px;top:8.1px;font-size:12px;line-height:16px;color:#f7a0be;transform:scaleX(0.980);transform-origin:0 50%;-webkit-text-stroke:0.35px;letter-spacing:-0.300px;">C1qP...Kpv</span>
<svg class="i" style="left:629.0px;top:9.7px" width="12" height="12" viewBox="0 0 12 12"><circle cx="6" cy="6" r="6" fill="#cdd0d1"/><g fill="#2b2d31"><path d="M3.6 3.1H9.1L8.2 4.6H2.7Z"/><path d="M2.7 5.25H8.2L9.1 6.75H3.6Z"/><path d="M3.6 7.4H9.1L8.2 8.9H2.7Z"/></g></svg>
<span class="t" style="left:689.6px;top:8.1px;font-size:12px;line-height:16px;color:#f4f5f6;-webkit-text-stroke:0.35px;letter-spacing:0.454px;">$0</span>
<span class="t" style="left:785.2px;top:8.1px;font-size:12px;line-height:16px;color:#f4f5f6;-webkit-text-stroke:0.35px;letter-spacing:-0.040px;">$72.88</span>
</div>
</main>
</body></html>
